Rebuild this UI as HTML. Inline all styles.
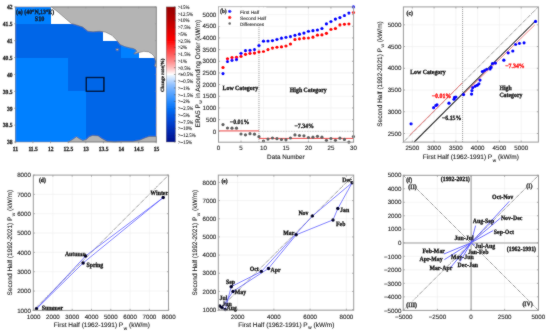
<!DOCTYPE html><html><head><meta charset="utf-8"><style>html,body{margin:0;padding:0;background:#fff;width:550px;height:335px;overflow:hidden}svg{display:block;will-change:transform;text-rendering:geometricPrecision}</style></head><body>
<svg xmlns="http://www.w3.org/2000/svg" width="550" height="335" viewBox="0 0 550 335">
<rect width="550" height="335" fill="#fff"/>
<defs><filter id="cv" x="0" y="0" width="550" height="335" filterUnits="userSpaceOnUse" primitiveUnits="userSpaceOnUse"><feConvolveMatrix order="3" kernelMatrix="1 2 1 2 24 2 1 2 1" divisor="36" edgeMode="duplicate"/></filter></defs><g filter="url(#cv)">
<rect x="15.3" y="6.9" width="35.25" height="16.89" fill="#0080ff" stroke="none" stroke-width="1" shape-rendering="crispEdges"/>
<rect x="15.3" y="23.79" width="88.12" height="16.89" fill="#0066e8" stroke="none" stroke-width="1" shape-rendering="crispEdges"/>
<rect x="15.3" y="40.67" width="105.75" height="16.89" fill="#0066e8" stroke="none" stroke-width="1" shape-rendering="crispEdges"/>
<rect x="121.05" y="40.67" width="17.63" height="16.89" fill="#0080ff" stroke="none" stroke-width="1" shape-rendering="crispEdges"/>
<rect x="15.3" y="57.56" width="52.88" height="33.78" fill="#0080ff" stroke="none" stroke-width="1" shape-rendering="crispEdges"/>
<rect x="68.17" y="57.56" width="88.13" height="33.78" fill="#0066e8" stroke="none" stroke-width="1" shape-rendering="crispEdges"/>
<rect x="15.3" y="91.34" width="70.5" height="50.66" fill="#0080ff" stroke="none" stroke-width="1" shape-rendering="crispEdges"/>
<rect x="85.8" y="91.34" width="70.5" height="50.66" fill="#0066e8" stroke="none" stroke-width="1" shape-rendering="crispEdges"/>
<polygon points="51.3,6.9 58,12 64.9,18 71.2,23.4 76.4,24.9 82.7,27 87.9,31.2 93.1,31.8 99.4,31.2 105.7,32.2 112,35.3 116.1,39.5 120.3,44.7 122.4,45.4 124.8,46.6 129.6,47.8 133.1,48.4 135.5,49.6 136.7,51.3 134.9,52.5 133.7,53.7 135.5,53.7 139.1,52.5 143.9,51.3 148.7,51.9 151.7,53.7 154,56.1 154.6,58.5 155.8,61.5 155.2,63.9 154.6,65.7 156.3,67.5 156.3,6.9" fill="#b4b4b4" stroke="#5a5a5a" stroke-width="0.5"/>
<polygon points="68.2,142 70,141 72.7,139.5 76.4,136.8 79.1,138.6 82.7,140.5 86.4,139.5 89.1,136.8 92.7,135.5 98.2,135.9 101.8,138.6 107.3,141.4 114.5,142 123.6,141.4 132.7,141.4 140,140.1 145.5,137.7 149.1,136.5 155.5,136.5 156.3,136.5 156.3,142" fill="#b4b4b4" stroke="#5a5a5a" stroke-width="0.5"/>
<ellipse cx="117.3" cy="49.6" rx="1.3" ry="0.9" fill="#b4b4b4" stroke="#5a5a5a" stroke-width="0.4"/>
<rect x="86.3" y="77.5" width="17.6" height="13.8" fill="none" stroke="#000" stroke-width="1.3" />
<rect x="15.3" y="6.9" width="141" height="135.1" fill="none" stroke="#8c8c8c" stroke-width="0.6"/>
<line x1="15.3" y1="142" x2="15.3" y2="140.6" stroke="#8c8c8c" stroke-width="0.48" />
<line x1="15.3" y1="6.9" x2="15.3" y2="8.3" stroke="#8c8c8c" stroke-width="0.48" />
<line x1="32.92" y1="142" x2="32.92" y2="140.6" stroke="#8c8c8c" stroke-width="0.48" />
<line x1="32.92" y1="6.9" x2="32.92" y2="8.3" stroke="#8c8c8c" stroke-width="0.48" />
<line x1="50.55" y1="142" x2="50.55" y2="140.6" stroke="#8c8c8c" stroke-width="0.48" />
<line x1="50.55" y1="6.9" x2="50.55" y2="8.3" stroke="#8c8c8c" stroke-width="0.48" />
<line x1="68.17" y1="142" x2="68.17" y2="140.6" stroke="#8c8c8c" stroke-width="0.48" />
<line x1="68.17" y1="6.9" x2="68.17" y2="8.3" stroke="#8c8c8c" stroke-width="0.48" />
<line x1="85.8" y1="142" x2="85.8" y2="140.6" stroke="#8c8c8c" stroke-width="0.48" />
<line x1="85.8" y1="6.9" x2="85.8" y2="8.3" stroke="#8c8c8c" stroke-width="0.48" />
<line x1="103.42" y1="142" x2="103.42" y2="140.6" stroke="#8c8c8c" stroke-width="0.48" />
<line x1="103.42" y1="6.9" x2="103.42" y2="8.3" stroke="#8c8c8c" stroke-width="0.48" />
<line x1="121.05" y1="142" x2="121.05" y2="140.6" stroke="#8c8c8c" stroke-width="0.48" />
<line x1="121.05" y1="6.9" x2="121.05" y2="8.3" stroke="#8c8c8c" stroke-width="0.48" />
<line x1="138.68" y1="142" x2="138.68" y2="140.6" stroke="#8c8c8c" stroke-width="0.48" />
<line x1="138.68" y1="6.9" x2="138.68" y2="8.3" stroke="#8c8c8c" stroke-width="0.48" />
<line x1="156.3" y1="142" x2="156.3" y2="140.6" stroke="#8c8c8c" stroke-width="0.48" />
<line x1="156.3" y1="6.9" x2="156.3" y2="8.3" stroke="#8c8c8c" stroke-width="0.48" />
<line x1="15.3" y1="142" x2="16.7" y2="142" stroke="#8c8c8c" stroke-width="0.48" />
<line x1="156.3" y1="142" x2="154.9" y2="142" stroke="#8c8c8c" stroke-width="0.48" />
<line x1="15.3" y1="125.11" x2="16.7" y2="125.11" stroke="#8c8c8c" stroke-width="0.48" />
<line x1="156.3" y1="125.11" x2="154.9" y2="125.11" stroke="#8c8c8c" stroke-width="0.48" />
<line x1="15.3" y1="108.22" x2="16.7" y2="108.22" stroke="#8c8c8c" stroke-width="0.48" />
<line x1="156.3" y1="108.22" x2="154.9" y2="108.22" stroke="#8c8c8c" stroke-width="0.48" />
<line x1="15.3" y1="91.34" x2="16.7" y2="91.34" stroke="#8c8c8c" stroke-width="0.48" />
<line x1="156.3" y1="91.34" x2="154.9" y2="91.34" stroke="#8c8c8c" stroke-width="0.48" />
<line x1="15.3" y1="74.45" x2="16.7" y2="74.45" stroke="#8c8c8c" stroke-width="0.48" />
<line x1="156.3" y1="74.45" x2="154.9" y2="74.45" stroke="#8c8c8c" stroke-width="0.48" />
<line x1="15.3" y1="57.56" x2="16.7" y2="57.56" stroke="#8c8c8c" stroke-width="0.48" />
<line x1="156.3" y1="57.56" x2="154.9" y2="57.56" stroke="#8c8c8c" stroke-width="0.48" />
<line x1="15.3" y1="40.67" x2="16.7" y2="40.67" stroke="#8c8c8c" stroke-width="0.48" />
<line x1="156.3" y1="40.67" x2="154.9" y2="40.67" stroke="#8c8c8c" stroke-width="0.48" />
<line x1="15.3" y1="23.79" x2="16.7" y2="23.79" stroke="#8c8c8c" stroke-width="0.48" />
<line x1="156.3" y1="23.79" x2="154.9" y2="23.79" stroke="#8c8c8c" stroke-width="0.48" />
<line x1="15.3" y1="6.9" x2="16.7" y2="6.9" stroke="#8c8c8c" stroke-width="0.48" />
<line x1="156.3" y1="6.9" x2="154.9" y2="6.9" stroke="#8c8c8c" stroke-width="0.48" />
<line x1="15.3" y1="142" x2="15.3" y2="143.3" stroke="#666" stroke-width="0.5" />
<line x1="32.92" y1="142" x2="32.92" y2="143.3" stroke="#666" stroke-width="0.5" />
<line x1="50.55" y1="142" x2="50.55" y2="143.3" stroke="#666" stroke-width="0.5" />
<line x1="68.17" y1="142" x2="68.17" y2="143.3" stroke="#666" stroke-width="0.5" />
<line x1="85.8" y1="142" x2="85.8" y2="143.3" stroke="#666" stroke-width="0.5" />
<line x1="103.42" y1="142" x2="103.42" y2="143.3" stroke="#666" stroke-width="0.5" />
<line x1="121.05" y1="142" x2="121.05" y2="143.3" stroke="#666" stroke-width="0.5" />
<line x1="138.68" y1="142" x2="138.68" y2="143.3" stroke="#666" stroke-width="0.5" />
<line x1="156.3" y1="142" x2="156.3" y2="143.3" stroke="#666" stroke-width="0.5" />
<line x1="14" y1="142" x2="15.3" y2="142" stroke="#666" stroke-width="0.5" />
<line x1="14" y1="125.11" x2="15.3" y2="125.11" stroke="#666" stroke-width="0.5" />
<line x1="14" y1="108.22" x2="15.3" y2="108.22" stroke="#666" stroke-width="0.5" />
<line x1="14" y1="91.34" x2="15.3" y2="91.34" stroke="#666" stroke-width="0.5" />
<line x1="14" y1="74.45" x2="15.3" y2="74.45" stroke="#666" stroke-width="0.5" />
<line x1="14" y1="57.56" x2="15.3" y2="57.56" stroke="#666" stroke-width="0.5" />
<line x1="14" y1="40.67" x2="15.3" y2="40.67" stroke="#666" stroke-width="0.5" />
<line x1="14" y1="23.79" x2="15.3" y2="23.79" stroke="#666" stroke-width="0.5" />
<line x1="14" y1="6.9" x2="15.3" y2="6.9" stroke="#666" stroke-width="0.5" />
<text transform="translate(15.5,150.73) scale(0.8928571428571428,1)" font-size="6.272" text-anchor="middle" font-family='"Liberation Serif", serif' font-weight="bold" fill="#222" stroke="#222" stroke-width="0.3" >11</text>
<text transform="translate(33.12,150.73) scale(0.8928571428571428,1)" font-size="6.272" text-anchor="middle" font-family='"Liberation Serif", serif' font-weight="bold" fill="#222" stroke="#222" stroke-width="0.3" >11.5</text>
<text transform="translate(50.75,150.73) scale(0.8928571428571428,1)" font-size="6.272" text-anchor="middle" font-family='"Liberation Serif", serif' font-weight="bold" fill="#222" stroke="#222" stroke-width="0.3" >12</text>
<text transform="translate(68.38,150.73) scale(0.8928571428571428,1)" font-size="6.272" text-anchor="middle" font-family='"Liberation Serif", serif' font-weight="bold" fill="#222" stroke="#222" stroke-width="0.3" >12.5</text>
<text transform="translate(86,150.73) scale(0.8928571428571428,1)" font-size="6.272" text-anchor="middle" font-family='"Liberation Serif", serif' font-weight="bold" fill="#222" stroke="#222" stroke-width="0.3" >13</text>
<text transform="translate(103.62,150.73) scale(0.8928571428571428,1)" font-size="6.272" text-anchor="middle" font-family='"Liberation Serif", serif' font-weight="bold" fill="#222" stroke="#222" stroke-width="0.3" >13.5</text>
<text transform="translate(121.25,150.73) scale(0.8928571428571428,1)" font-size="6.272" text-anchor="middle" font-family='"Liberation Serif", serif' font-weight="bold" fill="#222" stroke="#222" stroke-width="0.3" >14</text>
<text transform="translate(138.88,150.73) scale(0.8928571428571428,1)" font-size="6.272" text-anchor="middle" font-family='"Liberation Serif", serif' font-weight="bold" fill="#222" stroke="#222" stroke-width="0.3" >14.5</text>
<text transform="translate(156.5,150.73) scale(0.8928571428571428,1)" font-size="6.272" text-anchor="middle" font-family='"Liberation Serif", serif' font-weight="bold" fill="#222" stroke="#222" stroke-width="0.3" >15</text>
<text transform="translate(12.6,144.33) scale(0.8928571428571428,1)" font-size="6.272" text-anchor="end" font-family='"Liberation Serif", serif' font-weight="bold" fill="#222" stroke="#222" stroke-width="0.3" >38</text>
<text transform="translate(12.6,127.44) scale(0.8928571428571428,1)" font-size="6.272" text-anchor="end" font-family='"Liberation Serif", serif' font-weight="bold" fill="#222" stroke="#222" stroke-width="0.3" >38.5</text>
<text transform="translate(12.6,110.55) scale(0.8928571428571428,1)" font-size="6.272" text-anchor="end" font-family='"Liberation Serif", serif' font-weight="bold" fill="#222" stroke="#222" stroke-width="0.3" >39</text>
<text transform="translate(12.6,93.66) scale(0.8928571428571428,1)" font-size="6.272" text-anchor="end" font-family='"Liberation Serif", serif' font-weight="bold" fill="#222" stroke="#222" stroke-width="0.3" >39.5</text>
<text transform="translate(12.6,76.78) scale(0.8928571428571428,1)" font-size="6.272" text-anchor="end" font-family='"Liberation Serif", serif' font-weight="bold" fill="#222" stroke="#222" stroke-width="0.3" >40</text>
<text transform="translate(12.6,59.89) scale(0.8928571428571428,1)" font-size="6.272" text-anchor="end" font-family='"Liberation Serif", serif' font-weight="bold" fill="#222" stroke="#222" stroke-width="0.3" >40.5</text>
<text transform="translate(12.6,43) scale(0.8928571428571428,1)" font-size="6.272" text-anchor="end" font-family='"Liberation Serif", serif' font-weight="bold" fill="#222" stroke="#222" stroke-width="0.3" >41</text>
<text transform="translate(12.6,26.11) scale(0.8928571428571428,1)" font-size="6.272" text-anchor="end" font-family='"Liberation Serif", serif' font-weight="bold" fill="#222" stroke="#222" stroke-width="0.3" >41.5</text>
<text transform="translate(12.6,9.23) scale(0.8928571428571428,1)" font-size="6.272" text-anchor="end" font-family='"Liberation Serif", serif' font-weight="bold" fill="#222" stroke="#222" stroke-width="0.3" >42</text>
<text transform="translate(16,13.63) scale(0.8928571428571428,1)" font-size="6.5520000000000005" text-anchor="start" font-family='"Liberation Serif", serif' font-weight="bold" fill="#111" stroke="#111" stroke-width="0.3" >(a) (40°N,13°E)</text>
<text transform="translate(39.5,20.63) scale(0.8928571428571428,1)" font-size="6.832" text-anchor="middle" font-family='"Liberation Serif", serif' font-weight="bold" fill="#111" stroke="#111" stroke-width="0.3" >S10</text>
<defs><linearGradient id="cbg" x1="0" y1="0" x2="0" y2="1"><stop offset="0" stop-color="#960000"/><stop offset="0.097" stop-color="#b80000"/><stop offset="0.171" stop-color="#dc0000"/><stop offset="0.245" stop-color="#ff0000"/><stop offset="0.297" stop-color="#ff3030"/><stop offset="0.356" stop-color="#ff6060"/><stop offset="0.408" stop-color="#ff9090"/><stop offset="0.452" stop-color="#ffc0c0"/><stop offset="0.489" stop-color="#fff0f0"/><stop offset="0.5" stop-color="#ffffff"/><stop offset="0.504" stop-color="#f0f8ff"/><stop offset="0.541" stop-color="#c0dcff"/><stop offset="0.578" stop-color="#90c0ff"/><stop offset="0.63" stop-color="#60a8ff"/><stop offset="0.689" stop-color="#3090ff"/><stop offset="0.748" stop-color="#0674f8"/><stop offset="0.8" stop-color="#0058e4"/><stop offset="0.852" stop-color="#0044d2"/><stop offset="0.896" stop-color="#0032bc"/><stop offset="0.948" stop-color="#0020a4"/><stop offset="1" stop-color="#00108c"/></linearGradient></defs>
<rect x="166.2" y="6.9" width="9.3" height="135.1" fill="url(#cbg)" stroke="#777" stroke-width="0.4" />
<text transform="translate(177.9,8.81) scale(0.8928571428571428,1)" font-size="5.376" text-anchor="start" font-family='"Liberation Serif", serif' font-weight="normal" fill="#1a1a1a" stroke="#1a1a1a" stroke-width="0.12" >&gt;15%</text>
<line x1="175.5" y1="6.9" x2="173.9" y2="6.9" stroke="#444" stroke-width="0.5" />
<text transform="translate(177.9,15.56) scale(0.8928571428571428,1)" font-size="5.376" text-anchor="start" font-family='"Liberation Serif", serif' font-weight="normal" fill="#1a1a1a" stroke="#1a1a1a" stroke-width="0.12" >&gt;12.5%</text>
<line x1="175.5" y1="13.66" x2="173.9" y2="13.66" stroke="#444" stroke-width="0.5" />
<text transform="translate(177.9,22.32) scale(0.8928571428571428,1)" font-size="5.376" text-anchor="start" font-family='"Liberation Serif", serif' font-weight="normal" fill="#1a1a1a" stroke="#1a1a1a" stroke-width="0.12" >&gt;10%</text>
<line x1="175.5" y1="20.41" x2="173.9" y2="20.41" stroke="#444" stroke-width="0.5" />
<text transform="translate(177.9,29.07) scale(0.8928571428571428,1)" font-size="5.376" text-anchor="start" font-family='"Liberation Serif", serif' font-weight="normal" fill="#1a1a1a" stroke="#1a1a1a" stroke-width="0.12" >&gt;7.5%</text>
<line x1="175.5" y1="27.16" x2="173.9" y2="27.16" stroke="#444" stroke-width="0.5" />
<text transform="translate(177.9,35.83) scale(0.8928571428571428,1)" font-size="5.376" text-anchor="start" font-family='"Liberation Serif", serif' font-weight="normal" fill="#1a1a1a" stroke="#1a1a1a" stroke-width="0.12" >&gt;5%</text>
<line x1="175.5" y1="33.92" x2="173.9" y2="33.92" stroke="#444" stroke-width="0.5" />
<text transform="translate(177.9,42.58) scale(0.8928571428571428,1)" font-size="5.376" text-anchor="start" font-family='"Liberation Serif", serif' font-weight="normal" fill="#1a1a1a" stroke="#1a1a1a" stroke-width="0.12" >&gt;2.5%</text>
<line x1="175.5" y1="40.67" x2="173.9" y2="40.67" stroke="#444" stroke-width="0.5" />
<text transform="translate(177.9,49.34) scale(0.8928571428571428,1)" font-size="5.376" text-anchor="start" font-family='"Liberation Serif", serif' font-weight="normal" fill="#1a1a1a" stroke="#1a1a1a" stroke-width="0.12" >&gt;2%</text>
<line x1="175.5" y1="47.43" x2="173.9" y2="47.43" stroke="#444" stroke-width="0.5" />
<text transform="translate(177.9,56.09) scale(0.8928571428571428,1)" font-size="5.376" text-anchor="start" font-family='"Liberation Serif", serif' font-weight="normal" fill="#1a1a1a" stroke="#1a1a1a" stroke-width="0.12" >&gt;1.5%</text>
<line x1="175.5" y1="54.18" x2="173.9" y2="54.18" stroke="#444" stroke-width="0.5" />
<text transform="translate(177.9,62.85) scale(0.8928571428571428,1)" font-size="5.376" text-anchor="start" font-family='"Liberation Serif", serif' font-weight="normal" fill="#1a1a1a" stroke="#1a1a1a" stroke-width="0.12" >&gt;1%</text>
<line x1="175.5" y1="60.94" x2="173.9" y2="60.94" stroke="#444" stroke-width="0.5" />
<text transform="translate(177.9,69.6) scale(0.8928571428571428,1)" font-size="5.376" text-anchor="start" font-family='"Liberation Serif", serif' font-weight="normal" fill="#1a1a1a" stroke="#1a1a1a" stroke-width="0.12" >&gt;0.5%</text>
<line x1="175.5" y1="67.69" x2="173.9" y2="67.69" stroke="#444" stroke-width="0.5" />
<text transform="translate(177.9,76.36) scale(0.8928571428571428,1)" font-size="5.376" text-anchor="start" font-family='"Liberation Serif", serif' font-weight="normal" fill="#1a1a1a" stroke="#1a1a1a" stroke-width="0.12" >&lt;±0.5%</text>
<line x1="175.5" y1="74.45" x2="173.9" y2="74.45" stroke="#444" stroke-width="0.5" />
<text transform="translate(177.9,83.11) scale(0.8928571428571428,1)" font-size="5.376" text-anchor="start" font-family='"Liberation Serif", serif' font-weight="normal" fill="#1a1a1a" stroke="#1a1a1a" stroke-width="0.12" >&gt;−0.5%</text>
<line x1="175.5" y1="81.2" x2="173.9" y2="81.2" stroke="#444" stroke-width="0.5" />
<text transform="translate(177.9,89.87) scale(0.8928571428571428,1)" font-size="5.376" text-anchor="start" font-family='"Liberation Serif", serif' font-weight="normal" fill="#1a1a1a" stroke="#1a1a1a" stroke-width="0.12" >&gt;−1%</text>
<line x1="175.5" y1="87.96" x2="173.9" y2="87.96" stroke="#444" stroke-width="0.5" />
<text transform="translate(177.9,96.62) scale(0.8928571428571428,1)" font-size="5.376" text-anchor="start" font-family='"Liberation Serif", serif' font-weight="normal" fill="#1a1a1a" stroke="#1a1a1a" stroke-width="0.12" >&gt;−1.5%</text>
<line x1="175.5" y1="94.72" x2="173.9" y2="94.72" stroke="#444" stroke-width="0.5" />
<text transform="translate(177.9,103.38) scale(0.8928571428571428,1)" font-size="5.376" text-anchor="start" font-family='"Liberation Serif", serif' font-weight="normal" fill="#1a1a1a" stroke="#1a1a1a" stroke-width="0.12" >&gt;−2%</text>
<line x1="175.5" y1="101.47" x2="173.9" y2="101.47" stroke="#444" stroke-width="0.5" />
<text transform="translate(177.9,110.13) scale(0.8928571428571428,1)" font-size="5.376" text-anchor="start" font-family='"Liberation Serif", serif' font-weight="normal" fill="#1a1a1a" stroke="#1a1a1a" stroke-width="0.12" >&gt;−2.5%</text>
<line x1="175.5" y1="108.23" x2="173.9" y2="108.23" stroke="#444" stroke-width="0.5" />
<text transform="translate(177.9,116.89) scale(0.8928571428571428,1)" font-size="5.376" text-anchor="start" font-family='"Liberation Serif", serif' font-weight="normal" fill="#1a1a1a" stroke="#1a1a1a" stroke-width="0.12" >&gt;−5%</text>
<line x1="175.5" y1="114.98" x2="173.9" y2="114.98" stroke="#444" stroke-width="0.5" />
<text transform="translate(177.9,123.64) scale(0.8928571428571428,1)" font-size="5.376" text-anchor="start" font-family='"Liberation Serif", serif' font-weight="normal" fill="#1a1a1a" stroke="#1a1a1a" stroke-width="0.12" >&gt;−7.5%</text>
<line x1="175.5" y1="121.73" x2="173.9" y2="121.73" stroke="#444" stroke-width="0.5" />
<text transform="translate(177.9,130.4) scale(0.8928571428571428,1)" font-size="5.376" text-anchor="start" font-family='"Liberation Serif", serif' font-weight="normal" fill="#1a1a1a" stroke="#1a1a1a" stroke-width="0.12" >&gt;−10%</text>
<line x1="175.5" y1="128.49" x2="173.9" y2="128.49" stroke="#444" stroke-width="0.5" />
<text transform="translate(177.9,137.15) scale(0.8928571428571428,1)" font-size="5.376" text-anchor="start" font-family='"Liberation Serif", serif' font-weight="normal" fill="#1a1a1a" stroke="#1a1a1a" stroke-width="0.12" >&gt;−12.5%</text>
<line x1="175.5" y1="135.25" x2="173.9" y2="135.25" stroke="#444" stroke-width="0.5" />
<text transform="translate(177.9,143.91) scale(0.8928571428571428,1)" font-size="5.376" text-anchor="start" font-family='"Liberation Serif", serif' font-weight="normal" fill="#1a1a1a" stroke="#1a1a1a" stroke-width="0.12" >&gt;−15%</text>
<line x1="175.5" y1="142" x2="173.9" y2="142" stroke="#444" stroke-width="0.5" />
<text transform="translate(161.8,75.3) rotate(-90) scale(1.0,1) translate(0,1.704)" font-size="4.8" text-anchor="middle" font-family='"Liberation Serif", serif' font-weight="bold" fill="#222" stroke="#222" stroke-width="0.3" >Change rate(%)</text>
<line x1="240.99" y1="6.9" x2="240.99" y2="142.2" stroke="#eeeeee" stroke-width="0.6" />
<line x1="263.47" y1="6.9" x2="263.47" y2="142.2" stroke="#eeeeee" stroke-width="0.6" />
<line x1="285.95" y1="6.9" x2="285.95" y2="142.2" stroke="#eeeeee" stroke-width="0.6" />
<line x1="308.44" y1="6.9" x2="308.44" y2="142.2" stroke="#eeeeee" stroke-width="0.6" />
<line x1="330.93" y1="6.9" x2="330.93" y2="142.2" stroke="#eeeeee" stroke-width="0.6" />
<line x1="218.5" y1="131.3" x2="353.6" y2="131.3" stroke="#eeeeee" stroke-width="0.6" />
<line x1="218.5" y1="119.63" x2="353.6" y2="119.63" stroke="#eeeeee" stroke-width="0.6" />
<line x1="218.5" y1="107.96" x2="353.6" y2="107.96" stroke="#eeeeee" stroke-width="0.6" />
<line x1="218.5" y1="96.29" x2="353.6" y2="96.29" stroke="#eeeeee" stroke-width="0.6" />
<line x1="218.5" y1="84.62" x2="353.6" y2="84.62" stroke="#eeeeee" stroke-width="0.6" />
<line x1="218.5" y1="72.95" x2="353.6" y2="72.95" stroke="#eeeeee" stroke-width="0.6" />
<line x1="218.5" y1="61.28" x2="353.6" y2="61.28" stroke="#eeeeee" stroke-width="0.6" />
<line x1="218.5" y1="49.61" x2="353.6" y2="49.61" stroke="#eeeeee" stroke-width="0.6" />
<line x1="218.5" y1="37.94" x2="353.6" y2="37.94" stroke="#eeeeee" stroke-width="0.6" />
<line x1="218.5" y1="26.27" x2="353.6" y2="26.27" stroke="#eeeeee" stroke-width="0.6" />
<line x1="218.5" y1="14.6" x2="353.6" y2="14.6" stroke="#eeeeee" stroke-width="0.6" />
<line x1="258.97" y1="6.9" x2="258.97" y2="142.2" stroke="#555" stroke-width="0.8" stroke-dasharray="0.8,1.2"/>
<line x1="258.97" y1="131.3" x2="353.6" y2="131.3" stroke="#999" stroke-width="0.6" stroke-dasharray="0.8,0.8"/>
<line x1="218.5" y1="130.9" x2="258.97" y2="130.9" stroke="#f04a4a" stroke-width="1.0" />
<line x1="258.97" y1="138.4" x2="353.6" y2="138.4" stroke="#f04a4a" stroke-width="1.0" />
<circle cx="223" cy="124.6" r="1.6" fill="#606060"/>
<circle cx="227.49" cy="128" r="1.6" fill="#606060"/>
<circle cx="231.99" cy="128.2" r="1.6" fill="#606060"/>
<circle cx="236.49" cy="128.2" r="1.6" fill="#606060"/>
<circle cx="240.99" cy="134" r="1.6" fill="#606060"/>
<circle cx="245.48" cy="134.8" r="1.6" fill="#606060"/>
<circle cx="249.98" cy="133.7" r="1.6" fill="#606060"/>
<circle cx="254.48" cy="134.2" r="1.6" fill="#606060"/>
<circle cx="258.97" cy="136.7" r="1.6" fill="#606060"/>
<circle cx="263.47" cy="141" r="1.6" fill="#606060"/>
<circle cx="267.97" cy="139.1" r="1.6" fill="#606060"/>
<circle cx="272.46" cy="138" r="1.6" fill="#606060"/>
<circle cx="276.96" cy="138.7" r="1.6" fill="#606060"/>
<circle cx="281.46" cy="139.5" r="1.6" fill="#606060"/>
<circle cx="285.95" cy="139.7" r="1.6" fill="#606060"/>
<circle cx="290.45" cy="138" r="1.6" fill="#606060"/>
<circle cx="294.95" cy="134.9" r="1.6" fill="#606060"/>
<circle cx="299.45" cy="135.5" r="1.6" fill="#606060"/>
<circle cx="303.94" cy="135.8" r="1.6" fill="#606060"/>
<circle cx="308.44" cy="137.6" r="1.6" fill="#606060"/>
<circle cx="312.94" cy="137.2" r="1.6" fill="#606060"/>
<circle cx="317.43" cy="136.3" r="1.6" fill="#606060"/>
<circle cx="321.93" cy="137.2" r="1.6" fill="#606060"/>
<circle cx="326.43" cy="140.3" r="1.6" fill="#606060"/>
<circle cx="330.93" cy="138.5" r="1.6" fill="#606060"/>
<circle cx="335.42" cy="140.3" r="1.6" fill="#606060"/>
<circle cx="339.92" cy="138.2" r="1.6" fill="#606060"/>
<circle cx="344.42" cy="139.4" r="1.6" fill="#606060"/>
<circle cx="348.91" cy="142.1" r="1.6" fill="#606060"/>
<circle cx="353.41" cy="136.6" r="1.6" fill="#606060"/>
<circle cx="223" cy="67.5" r="1.6" fill="#ff0000"/>
<circle cx="227.49" cy="58.8" r="1.6" fill="#ff0000"/>
<circle cx="231.99" cy="57.6" r="1.6" fill="#ff0000"/>
<circle cx="236.49" cy="57.3" r="1.6" fill="#ff0000"/>
<circle cx="240.99" cy="56.4" r="1.6" fill="#ff0000"/>
<circle cx="245.48" cy="54.3" r="1.6" fill="#ff0000"/>
<circle cx="249.98" cy="53.3" r="1.6" fill="#ff0000"/>
<circle cx="254.48" cy="53.1" r="1.6" fill="#ff0000"/>
<circle cx="258.97" cy="51.8" r="1.6" fill="#ff0000"/>
<circle cx="263.47" cy="51.5" r="1.6" fill="#ff0000"/>
<circle cx="267.97" cy="49.6" r="1.6" fill="#ff0000"/>
<circle cx="272.46" cy="48.1" r="1.6" fill="#ff0000"/>
<circle cx="276.96" cy="47.3" r="1.6" fill="#ff0000"/>
<circle cx="281.46" cy="46.9" r="1.6" fill="#ff0000"/>
<circle cx="285.95" cy="46" r="1.6" fill="#ff0000"/>
<circle cx="290.45" cy="44" r="1.6" fill="#ff0000"/>
<circle cx="294.95" cy="39.4" r="1.6" fill="#ff0000"/>
<circle cx="299.45" cy="38.8" r="1.6" fill="#ff0000"/>
<circle cx="303.94" cy="38.2" r="1.6" fill="#ff0000"/>
<circle cx="308.44" cy="38" r="1.6" fill="#ff0000"/>
<circle cx="312.94" cy="37.2" r="1.6" fill="#ff0000"/>
<circle cx="317.43" cy="35.2" r="1.6" fill="#ff0000"/>
<circle cx="321.93" cy="34.9" r="1.6" fill="#ff0000"/>
<circle cx="326.43" cy="33.3" r="1.6" fill="#ff0000"/>
<circle cx="330.93" cy="29.4" r="1.6" fill="#ff0000"/>
<circle cx="335.42" cy="28.4" r="1.6" fill="#ff0000"/>
<circle cx="339.92" cy="24.9" r="1.6" fill="#ff0000"/>
<circle cx="344.42" cy="24.3" r="1.6" fill="#ff0000"/>
<circle cx="348.91" cy="24" r="1.6" fill="#ff0000"/>
<circle cx="353.41" cy="12.5" r="1.6" fill="#ff0000"/>
<circle cx="223" cy="73.6" r="1.6" fill="#0000ff"/>
<circle cx="227.49" cy="61.5" r="1.6" fill="#0000ff"/>
<circle cx="231.99" cy="60.3" r="1.6" fill="#0000ff"/>
<circle cx="236.49" cy="59.7" r="1.6" fill="#0000ff"/>
<circle cx="240.99" cy="53.3" r="1.6" fill="#0000ff"/>
<circle cx="245.48" cy="50.6" r="1.6" fill="#0000ff"/>
<circle cx="249.98" cy="50.3" r="1.6" fill="#0000ff"/>
<circle cx="254.48" cy="49.6" r="1.6" fill="#0000ff"/>
<circle cx="258.97" cy="45.5" r="1.6" fill="#0000ff"/>
<circle cx="263.47" cy="41.2" r="1.6" fill="#0000ff"/>
<circle cx="267.97" cy="41" r="1.6" fill="#0000ff"/>
<circle cx="272.46" cy="40.6" r="1.6" fill="#0000ff"/>
<circle cx="276.96" cy="39.3" r="1.6" fill="#0000ff"/>
<circle cx="281.46" cy="38.2" r="1.6" fill="#0000ff"/>
<circle cx="285.95" cy="37.3" r="1.6" fill="#0000ff"/>
<circle cx="290.45" cy="36.7" r="1.6" fill="#0000ff"/>
<circle cx="294.95" cy="35.4" r="1.6" fill="#0000ff"/>
<circle cx="299.45" cy="34.2" r="1.6" fill="#0000ff"/>
<circle cx="303.94" cy="33.1" r="1.6" fill="#0000ff"/>
<circle cx="308.44" cy="31.3" r="1.6" fill="#0000ff"/>
<circle cx="312.94" cy="30.7" r="1.6" fill="#0000ff"/>
<circle cx="317.43" cy="30" r="1.6" fill="#0000ff"/>
<circle cx="321.93" cy="28.4" r="1.6" fill="#0000ff"/>
<circle cx="326.43" cy="23.9" r="1.6" fill="#0000ff"/>
<circle cx="330.93" cy="21.6" r="1.6" fill="#0000ff"/>
<circle cx="335.42" cy="19.1" r="1.6" fill="#0000ff"/>
<circle cx="339.92" cy="17.6" r="1.6" fill="#0000ff"/>
<circle cx="344.42" cy="15.5" r="1.6" fill="#0000ff"/>
<circle cx="348.91" cy="13.1" r="1.6" fill="#0000ff"/>
<circle cx="353.41" cy="6.9" r="1.6" fill="#0000ff"/>
<rect x="218.5" y="6.9" width="135.1" height="135.3" fill="none" stroke="#9c9c9c" stroke-width="1.0"/>
<line x1="218.5" y1="142.2" x2="218.5" y2="140.6" stroke="#9c9c9c" stroke-width="0.8" />
<line x1="218.5" y1="6.9" x2="218.5" y2="8.5" stroke="#9c9c9c" stroke-width="0.8" />
<line x1="240.99" y1="142.2" x2="240.99" y2="140.6" stroke="#9c9c9c" stroke-width="0.8" />
<line x1="240.99" y1="6.9" x2="240.99" y2="8.5" stroke="#9c9c9c" stroke-width="0.8" />
<line x1="263.47" y1="142.2" x2="263.47" y2="140.6" stroke="#9c9c9c" stroke-width="0.8" />
<line x1="263.47" y1="6.9" x2="263.47" y2="8.5" stroke="#9c9c9c" stroke-width="0.8" />
<line x1="285.95" y1="142.2" x2="285.95" y2="140.6" stroke="#9c9c9c" stroke-width="0.8" />
<line x1="285.95" y1="6.9" x2="285.95" y2="8.5" stroke="#9c9c9c" stroke-width="0.8" />
<line x1="308.44" y1="142.2" x2="308.44" y2="140.6" stroke="#9c9c9c" stroke-width="0.8" />
<line x1="308.44" y1="6.9" x2="308.44" y2="8.5" stroke="#9c9c9c" stroke-width="0.8" />
<line x1="330.93" y1="142.2" x2="330.93" y2="140.6" stroke="#9c9c9c" stroke-width="0.8" />
<line x1="330.93" y1="6.9" x2="330.93" y2="8.5" stroke="#9c9c9c" stroke-width="0.8" />
<line x1="353.41" y1="142.2" x2="353.41" y2="140.6" stroke="#9c9c9c" stroke-width="0.8" />
<line x1="353.41" y1="6.9" x2="353.41" y2="8.5" stroke="#9c9c9c" stroke-width="0.8" />
<line x1="218.5" y1="131.3" x2="220.1" y2="131.3" stroke="#9c9c9c" stroke-width="0.8" />
<line x1="353.6" y1="131.3" x2="352" y2="131.3" stroke="#9c9c9c" stroke-width="0.8" />
<line x1="218.5" y1="119.63" x2="220.1" y2="119.63" stroke="#9c9c9c" stroke-width="0.8" />
<line x1="353.6" y1="119.63" x2="352" y2="119.63" stroke="#9c9c9c" stroke-width="0.8" />
<line x1="218.5" y1="107.96" x2="220.1" y2="107.96" stroke="#9c9c9c" stroke-width="0.8" />
<line x1="353.6" y1="107.96" x2="352" y2="107.96" stroke="#9c9c9c" stroke-width="0.8" />
<line x1="218.5" y1="96.29" x2="220.1" y2="96.29" stroke="#9c9c9c" stroke-width="0.8" />
<line x1="353.6" y1="96.29" x2="352" y2="96.29" stroke="#9c9c9c" stroke-width="0.8" />
<line x1="218.5" y1="84.62" x2="220.1" y2="84.62" stroke="#9c9c9c" stroke-width="0.8" />
<line x1="353.6" y1="84.62" x2="352" y2="84.62" stroke="#9c9c9c" stroke-width="0.8" />
<line x1="218.5" y1="72.95" x2="220.1" y2="72.95" stroke="#9c9c9c" stroke-width="0.8" />
<line x1="353.6" y1="72.95" x2="352" y2="72.95" stroke="#9c9c9c" stroke-width="0.8" />
<line x1="218.5" y1="61.28" x2="220.1" y2="61.28" stroke="#9c9c9c" stroke-width="0.8" />
<line x1="353.6" y1="61.28" x2="352" y2="61.28" stroke="#9c9c9c" stroke-width="0.8" />
<line x1="218.5" y1="49.61" x2="220.1" y2="49.61" stroke="#9c9c9c" stroke-width="0.8" />
<line x1="353.6" y1="49.61" x2="352" y2="49.61" stroke="#9c9c9c" stroke-width="0.8" />
<line x1="218.5" y1="37.94" x2="220.1" y2="37.94" stroke="#9c9c9c" stroke-width="0.8" />
<line x1="353.6" y1="37.94" x2="352" y2="37.94" stroke="#9c9c9c" stroke-width="0.8" />
<line x1="218.5" y1="26.27" x2="220.1" y2="26.27" stroke="#9c9c9c" stroke-width="0.8" />
<line x1="353.6" y1="26.27" x2="352" y2="26.27" stroke="#9c9c9c" stroke-width="0.8" />
<line x1="218.5" y1="14.6" x2="220.1" y2="14.6" stroke="#9c9c9c" stroke-width="0.8" />
<line x1="353.6" y1="14.6" x2="352" y2="14.6" stroke="#9c9c9c" stroke-width="0.8" />
<text transform="translate(218.5,150.4) scale(1.0,1)" font-size="6.2" text-anchor="middle" font-family='"Liberation Sans", sans-serif' font-weight="normal" fill="#262626" stroke="#262626" stroke-width="0.12" >0</text>
<text transform="translate(240.99,150.4) scale(1.0,1)" font-size="6.2" text-anchor="middle" font-family='"Liberation Sans", sans-serif' font-weight="normal" fill="#262626" stroke="#262626" stroke-width="0.12" >5</text>
<text transform="translate(263.47,150.4) scale(1.0,1)" font-size="6.2" text-anchor="middle" font-family='"Liberation Sans", sans-serif' font-weight="normal" fill="#262626" stroke="#262626" stroke-width="0.12" >10</text>
<text transform="translate(285.95,150.4) scale(1.0,1)" font-size="6.2" text-anchor="middle" font-family='"Liberation Sans", sans-serif' font-weight="normal" fill="#262626" stroke="#262626" stroke-width="0.12" >15</text>
<text transform="translate(308.44,150.4) scale(1.0,1)" font-size="6.2" text-anchor="middle" font-family='"Liberation Sans", sans-serif' font-weight="normal" fill="#262626" stroke="#262626" stroke-width="0.12" >20</text>
<text transform="translate(330.93,150.4) scale(1.0,1)" font-size="6.2" text-anchor="middle" font-family='"Liberation Sans", sans-serif' font-weight="normal" fill="#262626" stroke="#262626" stroke-width="0.12" >25</text>
<text transform="translate(353.41,150.4) scale(1.0,1)" font-size="6.2" text-anchor="middle" font-family='"Liberation Sans", sans-serif' font-weight="normal" fill="#262626" stroke="#262626" stroke-width="0.12" >30</text>
<text transform="translate(216.3,133.5) scale(1.0,1)" font-size="6.2" text-anchor="end" font-family='"Liberation Sans", sans-serif' font-weight="normal" fill="#262626" stroke="#262626" stroke-width="0.12" >0</text>
<text transform="translate(216.3,121.83) scale(1.0,1)" font-size="6.2" text-anchor="end" font-family='"Liberation Sans", sans-serif' font-weight="normal" fill="#262626" stroke="#262626" stroke-width="0.12" >500</text>
<text transform="translate(216.3,110.16) scale(1.0,1)" font-size="6.2" text-anchor="end" font-family='"Liberation Sans", sans-serif' font-weight="normal" fill="#262626" stroke="#262626" stroke-width="0.12" >1000</text>
<text transform="translate(216.3,98.49) scale(1.0,1)" font-size="6.2" text-anchor="end" font-family='"Liberation Sans", sans-serif' font-weight="normal" fill="#262626" stroke="#262626" stroke-width="0.12" >1500</text>
<text transform="translate(216.3,86.82) scale(1.0,1)" font-size="6.2" text-anchor="end" font-family='"Liberation Sans", sans-serif' font-weight="normal" fill="#262626" stroke="#262626" stroke-width="0.12" >2000</text>
<text transform="translate(216.3,75.15) scale(1.0,1)" font-size="6.2" text-anchor="end" font-family='"Liberation Sans", sans-serif' font-weight="normal" fill="#262626" stroke="#262626" stroke-width="0.12" >2500</text>
<text transform="translate(216.3,63.48) scale(1.0,1)" font-size="6.2" text-anchor="end" font-family='"Liberation Sans", sans-serif' font-weight="normal" fill="#262626" stroke="#262626" stroke-width="0.12" >3000</text>
<text transform="translate(216.3,51.81) scale(1.0,1)" font-size="6.2" text-anchor="end" font-family='"Liberation Sans", sans-serif' font-weight="normal" fill="#262626" stroke="#262626" stroke-width="0.12" >3500</text>
<text transform="translate(216.3,40.14) scale(1.0,1)" font-size="6.2" text-anchor="end" font-family='"Liberation Sans", sans-serif' font-weight="normal" fill="#262626" stroke="#262626" stroke-width="0.12" >4000</text>
<text transform="translate(216.3,28.47) scale(1.0,1)" font-size="6.2" text-anchor="end" font-family='"Liberation Sans", sans-serif' font-weight="normal" fill="#262626" stroke="#262626" stroke-width="0.12" >4500</text>
<text transform="translate(216.3,16.8) scale(1.0,1)" font-size="6.2" text-anchor="end" font-family='"Liberation Sans", sans-serif' font-weight="normal" fill="#262626" stroke="#262626" stroke-width="0.12" >5000</text>
<text transform="translate(285.8,159.14) scale(1.0,1)" font-size="6.3" text-anchor="middle" font-family='"Liberation Sans", sans-serif' font-weight="normal" fill="#262626" stroke="#262626" stroke-width="0.12" >Data Number</text>
<text transform="translate(197.4,73.6) rotate(-90) scale(1.0,1) translate(0,2.325)" font-size="6.55" text-anchor="middle" font-family='"Liberation Sans", sans-serif' font-weight="normal" fill="#262626" stroke="#262626" stroke-width="0.12" >ERA5 P<tspan font-size="4.6" dx="0.5" dy="2.6">w</tspan><tspan dx="0.2" dy="-2.6"> in Ascending Order (kW/m)</tspan></text>
<rect x="218.7" y="7.3" width="47.5" height="18.9" fill="#fff" stroke="none" stroke-width="1" />
<text transform="translate(219.9,13.49) scale(0.8928571428571428,1)" font-size="6.16" text-anchor="start" font-family='"Liberation Serif", serif' font-weight="bold" fill="#111" stroke="#111" stroke-width="0.3" >(b)</text>
<circle cx="229.7" cy="11.3" r="1.65" fill="#0000ff"/>
<text transform="translate(240.1,13.59) scale(1.0,1)" font-size="4.75" text-anchor="start" font-family='"Liberation Sans", sans-serif' font-weight="normal" fill="#222" stroke="#222" stroke-width="0.12" >First Half</text>
<circle cx="229.7" cy="17.5" r="1.65" fill="#ff0000"/>
<text transform="translate(240.1,19.59) scale(1.0,1)" font-size="4.75" text-anchor="start" font-family='"Liberation Sans", sans-serif' font-weight="normal" fill="#222" stroke="#222" stroke-width="0.12" >Second Half</text>
<circle cx="229.7" cy="23.5" r="1.3" fill="#606060"/>
<text transform="translate(240.1,26.09) scale(1.0,1)" font-size="4.75" text-anchor="start" font-family='"Liberation Sans", sans-serif' font-weight="normal" fill="#222" stroke="#222" stroke-width="0.12" >Differences</text>
<text transform="translate(222.6,90.03) scale(0.8928571428571428,1)" font-size="6.5520000000000005" text-anchor="start" font-family='"Liberation Serif", serif' font-weight="bold" fill="#111" stroke="#111" stroke-width="0.3" >Low Category</text>
<text transform="translate(289.8,92.13) scale(0.8928571428571428,1)" font-size="6.5520000000000005" text-anchor="start" font-family='"Liberation Serif", serif' font-weight="bold" fill="#111" stroke="#111" stroke-width="0.3" >High Category</text>
<text transform="translate(239.6,123.65) scale(0.8928571428571428,1)" font-size="6.608000000000001" text-anchor="middle" font-family='"Liberation Serif", serif' font-weight="bold" fill="#111" stroke="#111" stroke-width="0.3" >−0.01%</text>
<text transform="translate(304.2,128.15) scale(0.8928571428571428,1)" font-size="6.608000000000001" text-anchor="middle" font-family='"Liberation Serif", serif' font-weight="bold" fill="#111" stroke="#111" stroke-width="0.3" >−7.34%</text>
<line x1="412.3" y1="6.9" x2="412.3" y2="142.1" stroke="#eeeeee" stroke-width="0.6" />
<line x1="434.08" y1="6.9" x2="434.08" y2="142.1" stroke="#eeeeee" stroke-width="0.6" />
<line x1="455.86" y1="6.9" x2="455.86" y2="142.1" stroke="#eeeeee" stroke-width="0.6" />
<line x1="477.64" y1="6.9" x2="477.64" y2="142.1" stroke="#eeeeee" stroke-width="0.6" />
<line x1="499.42" y1="6.9" x2="499.42" y2="142.1" stroke="#eeeeee" stroke-width="0.6" />
<line x1="521.2" y1="6.9" x2="521.2" y2="142.1" stroke="#eeeeee" stroke-width="0.6" />
<line x1="403.4" y1="133.5" x2="538.4" y2="133.5" stroke="#eeeeee" stroke-width="0.6" />
<line x1="403.4" y1="111.76" x2="538.4" y2="111.76" stroke="#eeeeee" stroke-width="0.6" />
<line x1="403.4" y1="90.02" x2="538.4" y2="90.02" stroke="#eeeeee" stroke-width="0.6" />
<line x1="403.4" y1="68.28" x2="538.4" y2="68.28" stroke="#eeeeee" stroke-width="0.6" />
<line x1="403.4" y1="46.54" x2="538.4" y2="46.54" stroke="#eeeeee" stroke-width="0.6" />
<line x1="403.4" y1="24.8" x2="538.4" y2="24.8" stroke="#eeeeee" stroke-width="0.6" />
<line x1="462.6" y1="6.9" x2="462.6" y2="142.1" stroke="#555" stroke-width="0.8" stroke-dasharray="0.8,1.2"/>
<line x1="403.4" y1="142.1" x2="538.4" y2="6.9" stroke="#4a4a4a" stroke-width="1.0" stroke-dasharray="0.01,1.8" stroke-linecap="round"/>
<line x1="409.7" y1="135.1" x2="462.2" y2="82.8" stroke="#f07070" stroke-width="0.8" />
<line x1="462.2" y1="95.5" x2="534.8" y2="24.9" stroke="#f07070" stroke-width="0.8" />
<line x1="414.2" y1="142" x2="534.8" y2="21.7" stroke="#383838" stroke-width="1.15" />
<circle cx="411.09" cy="123.85" r="1.6" fill="#0000ff"/>
<circle cx="433.67" cy="107.64" r="1.6" fill="#0000ff"/>
<circle cx="435.91" cy="105.4" r="1.6" fill="#0000ff"/>
<circle cx="437.03" cy="104.85" r="1.6" fill="#0000ff"/>
<circle cx="448.97" cy="103.17" r="1.6" fill="#0000ff"/>
<circle cx="454.01" cy="99.26" r="1.6" fill="#0000ff"/>
<circle cx="454.57" cy="97.39" r="1.6" fill="#0000ff"/>
<circle cx="455.88" cy="97.02" r="1.6" fill="#0000ff"/>
<circle cx="463.53" cy="94.6" r="1.6" fill="#0000ff"/>
<circle cx="471.56" cy="94.04" r="1.6" fill="#0000ff"/>
<circle cx="471.93" cy="90.5" r="1.6" fill="#0000ff"/>
<circle cx="472.68" cy="87.71" r="1.6" fill="#0000ff"/>
<circle cx="475.1" cy="86.22" r="1.6" fill="#0000ff"/>
<circle cx="477.15" cy="85.47" r="1.6" fill="#0000ff"/>
<circle cx="478.83" cy="83.79" r="1.6" fill="#0000ff"/>
<circle cx="479.95" cy="80.07" r="1.6" fill="#0000ff"/>
<circle cx="482.38" cy="71.5" r="1.6" fill="#0000ff"/>
<circle cx="484.62" cy="70.38" r="1.6" fill="#0000ff"/>
<circle cx="486.67" cy="69.26" r="1.6" fill="#0000ff"/>
<circle cx="490.03" cy="68.89" r="1.6" fill="#0000ff"/>
<circle cx="491.15" cy="67.4" r="1.6" fill="#0000ff"/>
<circle cx="492.46" cy="63.68" r="1.6" fill="#0000ff"/>
<circle cx="495.44" cy="63.12" r="1.6" fill="#0000ff"/>
<circle cx="503.84" cy="60.14" r="1.6" fill="#0000ff"/>
<circle cx="508.14" cy="52.87" r="1.6" fill="#0000ff"/>
<circle cx="512.8" cy="51.01" r="1.6" fill="#0000ff"/>
<circle cx="515.6" cy="44.49" r="1.6" fill="#0000ff"/>
<circle cx="519.52" cy="43.37" r="1.6" fill="#0000ff"/>
<circle cx="524" cy="42.81" r="1.6" fill="#0000ff"/>
<circle cx="535.57" cy="21.39" r="1.6" fill="#0000ff"/>
<rect x="403.4" y="6.9" width="135" height="135.2" fill="none" stroke="#9c9c9c" stroke-width="1.0"/>
<line x1="412.3" y1="142.1" x2="412.3" y2="140.5" stroke="#9c9c9c" stroke-width="0.8" />
<line x1="412.3" y1="6.9" x2="412.3" y2="8.5" stroke="#9c9c9c" stroke-width="0.8" />
<line x1="434.08" y1="142.1" x2="434.08" y2="140.5" stroke="#9c9c9c" stroke-width="0.8" />
<line x1="434.08" y1="6.9" x2="434.08" y2="8.5" stroke="#9c9c9c" stroke-width="0.8" />
<line x1="455.86" y1="142.1" x2="455.86" y2="140.5" stroke="#9c9c9c" stroke-width="0.8" />
<line x1="455.86" y1="6.9" x2="455.86" y2="8.5" stroke="#9c9c9c" stroke-width="0.8" />
<line x1="477.64" y1="142.1" x2="477.64" y2="140.5" stroke="#9c9c9c" stroke-width="0.8" />
<line x1="477.64" y1="6.9" x2="477.64" y2="8.5" stroke="#9c9c9c" stroke-width="0.8" />
<line x1="499.42" y1="142.1" x2="499.42" y2="140.5" stroke="#9c9c9c" stroke-width="0.8" />
<line x1="499.42" y1="6.9" x2="499.42" y2="8.5" stroke="#9c9c9c" stroke-width="0.8" />
<line x1="521.2" y1="142.1" x2="521.2" y2="140.5" stroke="#9c9c9c" stroke-width="0.8" />
<line x1="521.2" y1="6.9" x2="521.2" y2="8.5" stroke="#9c9c9c" stroke-width="0.8" />
<line x1="403.4" y1="133.5" x2="405" y2="133.5" stroke="#9c9c9c" stroke-width="0.8" />
<line x1="538.4" y1="133.5" x2="536.8" y2="133.5" stroke="#9c9c9c" stroke-width="0.8" />
<line x1="403.4" y1="111.76" x2="405" y2="111.76" stroke="#9c9c9c" stroke-width="0.8" />
<line x1="538.4" y1="111.76" x2="536.8" y2="111.76" stroke="#9c9c9c" stroke-width="0.8" />
<line x1="403.4" y1="90.02" x2="405" y2="90.02" stroke="#9c9c9c" stroke-width="0.8" />
<line x1="538.4" y1="90.02" x2="536.8" y2="90.02" stroke="#9c9c9c" stroke-width="0.8" />
<line x1="403.4" y1="68.28" x2="405" y2="68.28" stroke="#9c9c9c" stroke-width="0.8" />
<line x1="538.4" y1="68.28" x2="536.8" y2="68.28" stroke="#9c9c9c" stroke-width="0.8" />
<line x1="403.4" y1="46.54" x2="405" y2="46.54" stroke="#9c9c9c" stroke-width="0.8" />
<line x1="538.4" y1="46.54" x2="536.8" y2="46.54" stroke="#9c9c9c" stroke-width="0.8" />
<line x1="403.4" y1="24.8" x2="405" y2="24.8" stroke="#9c9c9c" stroke-width="0.8" />
<line x1="538.4" y1="24.8" x2="536.8" y2="24.8" stroke="#9c9c9c" stroke-width="0.8" />
<text transform="translate(412.3,150.4) scale(1.0,1)" font-size="6.2" text-anchor="middle" font-family='"Liberation Sans", sans-serif' font-weight="normal" fill="#262626" stroke="#262626" stroke-width="0.12" >2500</text>
<text transform="translate(401.4,135.7) scale(1.0,1)" font-size="6.2" text-anchor="end" font-family='"Liberation Sans", sans-serif' font-weight="normal" fill="#262626" stroke="#262626" stroke-width="0.12" >2500</text>
<text transform="translate(434.08,150.4) scale(1.0,1)" font-size="6.2" text-anchor="middle" font-family='"Liberation Sans", sans-serif' font-weight="normal" fill="#262626" stroke="#262626" stroke-width="0.12" >3000</text>
<text transform="translate(401.4,113.96) scale(1.0,1)" font-size="6.2" text-anchor="end" font-family='"Liberation Sans", sans-serif' font-weight="normal" fill="#262626" stroke="#262626" stroke-width="0.12" >3000</text>
<text transform="translate(455.86,150.4) scale(1.0,1)" font-size="6.2" text-anchor="middle" font-family='"Liberation Sans", sans-serif' font-weight="normal" fill="#262626" stroke="#262626" stroke-width="0.12" >3500</text>
<text transform="translate(401.4,92.22) scale(1.0,1)" font-size="6.2" text-anchor="end" font-family='"Liberation Sans", sans-serif' font-weight="normal" fill="#262626" stroke="#262626" stroke-width="0.12" >3500</text>
<text transform="translate(477.64,150.4) scale(1.0,1)" font-size="6.2" text-anchor="middle" font-family='"Liberation Sans", sans-serif' font-weight="normal" fill="#262626" stroke="#262626" stroke-width="0.12" >4000</text>
<text transform="translate(401.4,70.48) scale(1.0,1)" font-size="6.2" text-anchor="end" font-family='"Liberation Sans", sans-serif' font-weight="normal" fill="#262626" stroke="#262626" stroke-width="0.12" >4000</text>
<text transform="translate(499.42,150.4) scale(1.0,1)" font-size="6.2" text-anchor="middle" font-family='"Liberation Sans", sans-serif' font-weight="normal" fill="#262626" stroke="#262626" stroke-width="0.12" >4500</text>
<text transform="translate(401.4,48.74) scale(1.0,1)" font-size="6.2" text-anchor="end" font-family='"Liberation Sans", sans-serif' font-weight="normal" fill="#262626" stroke="#262626" stroke-width="0.12" >4500</text>
<text transform="translate(521.2,150.4) scale(1.0,1)" font-size="6.2" text-anchor="middle" font-family='"Liberation Sans", sans-serif' font-weight="normal" fill="#262626" stroke="#262626" stroke-width="0.12" >5000</text>
<text transform="translate(401.4,27) scale(1.0,1)" font-size="6.2" text-anchor="end" font-family='"Liberation Sans", sans-serif' font-weight="normal" fill="#262626" stroke="#262626" stroke-width="0.12" >5000</text>
<text transform="translate(470.9,159.01) scale(1.0,1)" font-size="6.5" text-anchor="middle" font-family='"Liberation Sans", sans-serif' font-weight="normal" fill="#262626" stroke="#262626" stroke-width="0.12" >First Half (1962-1991) P<tspan font-size="4.6" dx="0.5" dy="2.6">w</tspan><tspan dx="0.2" dy="-2.6"> (kW/m)</tspan></text>
<text transform="translate(379.4,74) rotate(-90) scale(1.0,1) translate(0,2.308)" font-size="6.5" text-anchor="middle" font-family='"Liberation Sans", sans-serif' font-weight="normal" fill="#262626" stroke="#262626" stroke-width="0.12" >Second Half (1992-2021) P<tspan font-size="4.6" dx="0.5" dy="2.6">w</tspan><tspan dx="0.2" dy="-2.6"> (kW/m)</tspan></text>
<text transform="translate(406.6,15.13) scale(0.8928571428571428,1)" font-size="6.272" text-anchor="start" font-family='"Liberation Serif", serif' font-weight="bold" fill="#111" stroke="#111" stroke-width="0.3" >(c)</text>
<text transform="translate(410.2,74.23) scale(0.8928571428571428,1)" font-size="6.5520000000000005" text-anchor="start" font-family='"Liberation Serif", serif' font-weight="bold" fill="#111" stroke="#111" stroke-width="0.3" >Low Category</text>
<text transform="translate(431.7,97.55) scale(0.8928571428571428,1)" font-size="6.608000000000001" text-anchor="start" font-family='"Liberation Serif", serif' font-weight="bold" fill="#ff0000" stroke="#ff0000" stroke-width="0.3" >−0.01%</text>
<text transform="translate(441.9,120.25) scale(0.8928571428571428,1)" font-size="6.608000000000001" text-anchor="start" font-family='"Liberation Serif", serif' font-weight="bold" fill="#111" stroke="#111" stroke-width="0.3" >−6.15%</text>
<text transform="translate(505.2,68.45) scale(0.8928571428571428,1)" font-size="6.608000000000001" text-anchor="start" font-family='"Liberation Serif", serif' font-weight="bold" fill="#ff0000" stroke="#ff0000" stroke-width="0.3" >−7.34%</text>
<text transform="translate(499.4,90.33) scale(0.8928571428571428,1)" font-size="6.5520000000000005" text-anchor="start" font-family='"Liberation Serif", serif' font-weight="bold" fill="#111" stroke="#111" stroke-width="0.3" >High</text>
<text transform="translate(499.4,97.43) scale(0.8928571428571428,1)" font-size="6.5520000000000005" text-anchor="start" font-family='"Liberation Serif", serif' font-weight="bold" fill="#111" stroke="#111" stroke-width="0.3" >Category</text>
<line x1="52.9" y1="175.1" x2="52.9" y2="310.4" stroke="#eeeeee" stroke-width="0.6" />
<line x1="72.2" y1="175.1" x2="72.2" y2="310.4" stroke="#eeeeee" stroke-width="0.6" />
<line x1="91.5" y1="175.1" x2="91.5" y2="310.4" stroke="#eeeeee" stroke-width="0.6" />
<line x1="110.8" y1="175.1" x2="110.8" y2="310.4" stroke="#eeeeee" stroke-width="0.6" />
<line x1="130.1" y1="175.1" x2="130.1" y2="310.4" stroke="#eeeeee" stroke-width="0.6" />
<line x1="149.4" y1="175.1" x2="149.4" y2="310.4" stroke="#eeeeee" stroke-width="0.6" />
<line x1="33.3" y1="291.06" x2="168.5" y2="291.06" stroke="#eeeeee" stroke-width="0.6" />
<line x1="33.3" y1="271.72" x2="168.5" y2="271.72" stroke="#eeeeee" stroke-width="0.6" />
<line x1="33.3" y1="252.38" x2="168.5" y2="252.38" stroke="#eeeeee" stroke-width="0.6" />
<line x1="33.3" y1="233.04" x2="168.5" y2="233.04" stroke="#eeeeee" stroke-width="0.6" />
<line x1="33.3" y1="213.7" x2="168.5" y2="213.7" stroke="#eeeeee" stroke-width="0.6" />
<line x1="33.3" y1="194.36" x2="168.5" y2="194.36" stroke="#eeeeee" stroke-width="0.6" />
<line x1="33.3" y1="310.4" x2="168.5" y2="175.1" stroke="#4a4a4a" stroke-width="1.0" stroke-dasharray="0.01,1.8" stroke-linecap="round"/>
<polyline points="83.1,263 36.5,308.8 85.5,256 163.2,197.6 83.1,263" fill="none" stroke="#5f5fff" stroke-width="0.8"/>
<circle cx="36.5" cy="308.8" r="1.75" fill="#000028"/>
<circle cx="85.5" cy="256" r="1.75" fill="#000028"/>
<circle cx="83.1" cy="263" r="1.75" fill="#000028"/>
<circle cx="163.2" cy="197.6" r="1.75" fill="#000028"/>
<rect x="33.3" y="175.1" width="135.2" height="135.3" fill="none" stroke="#9c9c9c" stroke-width="1.0"/>
<line x1="33.6" y1="310.4" x2="33.6" y2="308.8" stroke="#9c9c9c" stroke-width="0.8" />
<line x1="33.6" y1="175.1" x2="33.6" y2="176.7" stroke="#9c9c9c" stroke-width="0.8" />
<line x1="52.9" y1="310.4" x2="52.9" y2="308.8" stroke="#9c9c9c" stroke-width="0.8" />
<line x1="52.9" y1="175.1" x2="52.9" y2="176.7" stroke="#9c9c9c" stroke-width="0.8" />
<line x1="72.2" y1="310.4" x2="72.2" y2="308.8" stroke="#9c9c9c" stroke-width="0.8" />
<line x1="72.2" y1="175.1" x2="72.2" y2="176.7" stroke="#9c9c9c" stroke-width="0.8" />
<line x1="91.5" y1="310.4" x2="91.5" y2="308.8" stroke="#9c9c9c" stroke-width="0.8" />
<line x1="91.5" y1="175.1" x2="91.5" y2="176.7" stroke="#9c9c9c" stroke-width="0.8" />
<line x1="110.8" y1="310.4" x2="110.8" y2="308.8" stroke="#9c9c9c" stroke-width="0.8" />
<line x1="110.8" y1="175.1" x2="110.8" y2="176.7" stroke="#9c9c9c" stroke-width="0.8" />
<line x1="130.1" y1="310.4" x2="130.1" y2="308.8" stroke="#9c9c9c" stroke-width="0.8" />
<line x1="130.1" y1="175.1" x2="130.1" y2="176.7" stroke="#9c9c9c" stroke-width="0.8" />
<line x1="149.4" y1="310.4" x2="149.4" y2="308.8" stroke="#9c9c9c" stroke-width="0.8" />
<line x1="149.4" y1="175.1" x2="149.4" y2="176.7" stroke="#9c9c9c" stroke-width="0.8" />
<line x1="168.7" y1="310.4" x2="168.7" y2="308.8" stroke="#9c9c9c" stroke-width="0.8" />
<line x1="168.7" y1="175.1" x2="168.7" y2="176.7" stroke="#9c9c9c" stroke-width="0.8" />
<line x1="33.3" y1="310.4" x2="34.9" y2="310.4" stroke="#9c9c9c" stroke-width="0.8" />
<line x1="168.5" y1="310.4" x2="166.9" y2="310.4" stroke="#9c9c9c" stroke-width="0.8" />
<line x1="33.3" y1="291.06" x2="34.9" y2="291.06" stroke="#9c9c9c" stroke-width="0.8" />
<line x1="168.5" y1="291.06" x2="166.9" y2="291.06" stroke="#9c9c9c" stroke-width="0.8" />
<line x1="33.3" y1="271.72" x2="34.9" y2="271.72" stroke="#9c9c9c" stroke-width="0.8" />
<line x1="168.5" y1="271.72" x2="166.9" y2="271.72" stroke="#9c9c9c" stroke-width="0.8" />
<line x1="33.3" y1="252.38" x2="34.9" y2="252.38" stroke="#9c9c9c" stroke-width="0.8" />
<line x1="168.5" y1="252.38" x2="166.9" y2="252.38" stroke="#9c9c9c" stroke-width="0.8" />
<line x1="33.3" y1="233.04" x2="34.9" y2="233.04" stroke="#9c9c9c" stroke-width="0.8" />
<line x1="168.5" y1="233.04" x2="166.9" y2="233.04" stroke="#9c9c9c" stroke-width="0.8" />
<line x1="33.3" y1="213.7" x2="34.9" y2="213.7" stroke="#9c9c9c" stroke-width="0.8" />
<line x1="168.5" y1="213.7" x2="166.9" y2="213.7" stroke="#9c9c9c" stroke-width="0.8" />
<line x1="33.3" y1="194.36" x2="34.9" y2="194.36" stroke="#9c9c9c" stroke-width="0.8" />
<line x1="168.5" y1="194.36" x2="166.9" y2="194.36" stroke="#9c9c9c" stroke-width="0.8" />
<line x1="33.3" y1="175.02" x2="34.9" y2="175.02" stroke="#9c9c9c" stroke-width="0.8" />
<line x1="168.5" y1="175.02" x2="166.9" y2="175.02" stroke="#9c9c9c" stroke-width="0.8" />
<text transform="translate(33.6,318.5) scale(1.0,1)" font-size="6.2" text-anchor="middle" font-family='"Liberation Sans", sans-serif' font-weight="normal" fill="#262626" stroke="#262626" stroke-width="0.12" >1000</text>
<text transform="translate(30.9,312.6) scale(1.0,1)" font-size="6.2" text-anchor="end" font-family='"Liberation Sans", sans-serif' font-weight="normal" fill="#262626" stroke="#262626" stroke-width="0.12" >1000</text>
<text transform="translate(52.9,318.5) scale(1.0,1)" font-size="6.2" text-anchor="middle" font-family='"Liberation Sans", sans-serif' font-weight="normal" fill="#262626" stroke="#262626" stroke-width="0.12" >2000</text>
<text transform="translate(30.9,293.26) scale(1.0,1)" font-size="6.2" text-anchor="end" font-family='"Liberation Sans", sans-serif' font-weight="normal" fill="#262626" stroke="#262626" stroke-width="0.12" >2000</text>
<text transform="translate(72.2,318.5) scale(1.0,1)" font-size="6.2" text-anchor="middle" font-family='"Liberation Sans", sans-serif' font-weight="normal" fill="#262626" stroke="#262626" stroke-width="0.12" >3000</text>
<text transform="translate(30.9,273.92) scale(1.0,1)" font-size="6.2" text-anchor="end" font-family='"Liberation Sans", sans-serif' font-weight="normal" fill="#262626" stroke="#262626" stroke-width="0.12" >3000</text>
<text transform="translate(91.5,318.5) scale(1.0,1)" font-size="6.2" text-anchor="middle" font-family='"Liberation Sans", sans-serif' font-weight="normal" fill="#262626" stroke="#262626" stroke-width="0.12" >4000</text>
<text transform="translate(30.9,254.58) scale(1.0,1)" font-size="6.2" text-anchor="end" font-family='"Liberation Sans", sans-serif' font-weight="normal" fill="#262626" stroke="#262626" stroke-width="0.12" >4000</text>
<text transform="translate(110.8,318.5) scale(1.0,1)" font-size="6.2" text-anchor="middle" font-family='"Liberation Sans", sans-serif' font-weight="normal" fill="#262626" stroke="#262626" stroke-width="0.12" >5000</text>
<text transform="translate(30.9,235.24) scale(1.0,1)" font-size="6.2" text-anchor="end" font-family='"Liberation Sans", sans-serif' font-weight="normal" fill="#262626" stroke="#262626" stroke-width="0.12" >5000</text>
<text transform="translate(130.1,318.5) scale(1.0,1)" font-size="6.2" text-anchor="middle" font-family='"Liberation Sans", sans-serif' font-weight="normal" fill="#262626" stroke="#262626" stroke-width="0.12" >6000</text>
<text transform="translate(30.9,215.9) scale(1.0,1)" font-size="6.2" text-anchor="end" font-family='"Liberation Sans", sans-serif' font-weight="normal" fill="#262626" stroke="#262626" stroke-width="0.12" >6000</text>
<text transform="translate(149.4,318.5) scale(1.0,1)" font-size="6.2" text-anchor="middle" font-family='"Liberation Sans", sans-serif' font-weight="normal" fill="#262626" stroke="#262626" stroke-width="0.12" >7000</text>
<text transform="translate(30.9,196.56) scale(1.0,1)" font-size="6.2" text-anchor="end" font-family='"Liberation Sans", sans-serif' font-weight="normal" fill="#262626" stroke="#262626" stroke-width="0.12" >7000</text>
<text transform="translate(168.7,318.5) scale(1.0,1)" font-size="6.2" text-anchor="middle" font-family='"Liberation Sans", sans-serif' font-weight="normal" fill="#262626" stroke="#262626" stroke-width="0.12" >8000</text>
<text transform="translate(30.9,177.22) scale(1.0,1)" font-size="6.2" text-anchor="end" font-family='"Liberation Sans", sans-serif' font-weight="normal" fill="#262626" stroke="#262626" stroke-width="0.12" >8000</text>
<text transform="translate(101.9,327.01) scale(1.0,1)" font-size="6.5" text-anchor="middle" font-family='"Liberation Sans", sans-serif' font-weight="normal" fill="#262626" stroke="#262626" stroke-width="0.12" >First Half (1962-1991) P<tspan font-size="4.6" dx="0.5" dy="2.6">w</tspan><tspan dx="0.2" dy="-2.6"> (kW/m)</tspan></text>
<text transform="translate(9.9,242.7) rotate(-90) scale(1.0,1) translate(0,2.308)" font-size="6.5" text-anchor="middle" font-family='"Liberation Sans", sans-serif' font-weight="normal" fill="#262626" stroke="#262626" stroke-width="0.12" >Second Half (1992-2021) P<tspan font-size="4.6" dx="0.5" dy="2.6">w</tspan><tspan dx="0.2" dy="-2.6"> (kW/m)</tspan></text>
<text transform="translate(39,182.43) scale(0.8928571428571428,1)" font-size="6.272" text-anchor="start" font-family='"Liberation Serif", serif' font-weight="bold" fill="#111" stroke="#111" stroke-width="0.3" >(d)</text>
<text transform="translate(41.7,309.83) scale(0.8928571428571428,1)" font-size="6.5520000000000005" text-anchor="start" font-family='"Liberation Serif", serif' font-weight="bold" fill="#111" stroke="#111" stroke-width="0.3" >Summer</text>
<text transform="translate(64.9,256.33) scale(0.8928571428571428,1)" font-size="6.5520000000000005" text-anchor="start" font-family='"Liberation Serif", serif' font-weight="bold" fill="#111" stroke="#111" stroke-width="0.3" >Autumn</text>
<text transform="translate(86.4,267.13) scale(0.8928571428571428,1)" font-size="6.5520000000000005" text-anchor="start" font-family='"Liberation Serif", serif' font-weight="bold" fill="#111" stroke="#111" stroke-width="0.3" >Spring</text>
<text transform="translate(150.3,194.53) scale(0.8928571428571428,1)" font-size="6.5520000000000005" text-anchor="start" font-family='"Liberation Serif", serif' font-weight="bold" fill="#111" stroke="#111" stroke-width="0.3" >Winter</text>
<line x1="237.6" y1="175.1" x2="237.6" y2="310.2" stroke="#eeeeee" stroke-width="0.6" />
<line x1="273.86" y1="175.1" x2="273.86" y2="310.2" stroke="#eeeeee" stroke-width="0.6" />
<line x1="310.12" y1="175.1" x2="310.12" y2="310.2" stroke="#eeeeee" stroke-width="0.6" />
<line x1="346.38" y1="175.1" x2="346.38" y2="310.2" stroke="#eeeeee" stroke-width="0.6" />
<line x1="218.3" y1="309.6" x2="353.7" y2="309.6" stroke="#eeeeee" stroke-width="0.6" />
<line x1="218.3" y1="291.43" x2="353.7" y2="291.43" stroke="#eeeeee" stroke-width="0.6" />
<line x1="218.3" y1="273.26" x2="353.7" y2="273.26" stroke="#eeeeee" stroke-width="0.6" />
<line x1="218.3" y1="255.09" x2="353.7" y2="255.09" stroke="#eeeeee" stroke-width="0.6" />
<line x1="218.3" y1="236.92" x2="353.7" y2="236.92" stroke="#eeeeee" stroke-width="0.6" />
<line x1="218.3" y1="218.75" x2="353.7" y2="218.75" stroke="#eeeeee" stroke-width="0.6" />
<line x1="218.3" y1="200.58" x2="353.7" y2="200.58" stroke="#eeeeee" stroke-width="0.6" />
<line x1="218.3" y1="182.41" x2="353.7" y2="182.41" stroke="#eeeeee" stroke-width="0.6" />
<line x1="218.3" y1="310.2" x2="353.7" y2="175.1" stroke="#4a4a4a" stroke-width="1.0" stroke-dasharray="0.01,1.8" stroke-linecap="round"/>
<polyline points="337.8,208.6 333,219.9 296.2,234.8 268.5,268.4 233,291.4 222,307.7 219.7,306.1 225.2,309.6 231.2,286.7 261.3,271.6 312.3,216.1 352.2,182.7 337.8,208.6" fill="none" stroke="#5f5fff" stroke-width="0.8"/>
<circle cx="337.8" cy="208.6" r="1.75" fill="#000028"/>
<circle cx="333" cy="219.9" r="1.75" fill="#000028"/>
<circle cx="296.2" cy="234.8" r="1.75" fill="#000028"/>
<circle cx="268.5" cy="268.4" r="1.75" fill="#000028"/>
<circle cx="233" cy="291.4" r="1.75" fill="#000028"/>
<circle cx="222" cy="307.7" r="1.75" fill="#000028"/>
<circle cx="219.7" cy="306.1" r="1.75" fill="#000028"/>
<circle cx="225.2" cy="309.6" r="1.75" fill="#000028"/>
<circle cx="231.2" cy="286.7" r="1.75" fill="#000028"/>
<circle cx="261.3" cy="271.6" r="1.75" fill="#000028"/>
<circle cx="312.3" cy="216.1" r="1.75" fill="#000028"/>
<circle cx="352.2" cy="182.7" r="1.75" fill="#000028"/>
<rect x="218.3" y="175.1" width="135.4" height="135.1" fill="none" stroke="#9c9c9c" stroke-width="1.0"/>
<line x1="237.6" y1="310.2" x2="237.6" y2="308.6" stroke="#9c9c9c" stroke-width="0.8" />
<line x1="237.6" y1="175.1" x2="237.6" y2="176.7" stroke="#9c9c9c" stroke-width="0.8" />
<line x1="273.86" y1="310.2" x2="273.86" y2="308.6" stroke="#9c9c9c" stroke-width="0.8" />
<line x1="273.86" y1="175.1" x2="273.86" y2="176.7" stroke="#9c9c9c" stroke-width="0.8" />
<line x1="310.12" y1="310.2" x2="310.12" y2="308.6" stroke="#9c9c9c" stroke-width="0.8" />
<line x1="310.12" y1="175.1" x2="310.12" y2="176.7" stroke="#9c9c9c" stroke-width="0.8" />
<line x1="346.38" y1="310.2" x2="346.38" y2="308.6" stroke="#9c9c9c" stroke-width="0.8" />
<line x1="346.38" y1="175.1" x2="346.38" y2="176.7" stroke="#9c9c9c" stroke-width="0.8" />
<line x1="218.3" y1="309.6" x2="219.9" y2="309.6" stroke="#9c9c9c" stroke-width="0.8" />
<line x1="353.7" y1="309.6" x2="352.1" y2="309.6" stroke="#9c9c9c" stroke-width="0.8" />
<line x1="218.3" y1="291.43" x2="219.9" y2="291.43" stroke="#9c9c9c" stroke-width="0.8" />
<line x1="353.7" y1="291.43" x2="352.1" y2="291.43" stroke="#9c9c9c" stroke-width="0.8" />
<line x1="218.3" y1="273.26" x2="219.9" y2="273.26" stroke="#9c9c9c" stroke-width="0.8" />
<line x1="353.7" y1="273.26" x2="352.1" y2="273.26" stroke="#9c9c9c" stroke-width="0.8" />
<line x1="218.3" y1="255.09" x2="219.9" y2="255.09" stroke="#9c9c9c" stroke-width="0.8" />
<line x1="353.7" y1="255.09" x2="352.1" y2="255.09" stroke="#9c9c9c" stroke-width="0.8" />
<line x1="218.3" y1="236.92" x2="219.9" y2="236.92" stroke="#9c9c9c" stroke-width="0.8" />
<line x1="353.7" y1="236.92" x2="352.1" y2="236.92" stroke="#9c9c9c" stroke-width="0.8" />
<line x1="218.3" y1="218.75" x2="219.9" y2="218.75" stroke="#9c9c9c" stroke-width="0.8" />
<line x1="353.7" y1="218.75" x2="352.1" y2="218.75" stroke="#9c9c9c" stroke-width="0.8" />
<line x1="218.3" y1="200.58" x2="219.9" y2="200.58" stroke="#9c9c9c" stroke-width="0.8" />
<line x1="353.7" y1="200.58" x2="352.1" y2="200.58" stroke="#9c9c9c" stroke-width="0.8" />
<line x1="218.3" y1="182.41" x2="219.9" y2="182.41" stroke="#9c9c9c" stroke-width="0.8" />
<line x1="353.7" y1="182.41" x2="352.1" y2="182.41" stroke="#9c9c9c" stroke-width="0.8" />
<text transform="translate(237.6,318.5) scale(1.0,1)" font-size="6.2" text-anchor="middle" font-family='"Liberation Sans", sans-serif' font-weight="normal" fill="#262626" stroke="#262626" stroke-width="0.12" >2000</text>
<text transform="translate(273.86,318.5) scale(1.0,1)" font-size="6.2" text-anchor="middle" font-family='"Liberation Sans", sans-serif' font-weight="normal" fill="#262626" stroke="#262626" stroke-width="0.12" >4000</text>
<text transform="translate(310.12,318.5) scale(1.0,1)" font-size="6.2" text-anchor="middle" font-family='"Liberation Sans", sans-serif' font-weight="normal" fill="#262626" stroke="#262626" stroke-width="0.12" >6000</text>
<text transform="translate(346.38,318.5) scale(1.0,1)" font-size="6.2" text-anchor="middle" font-family='"Liberation Sans", sans-serif' font-weight="normal" fill="#262626" stroke="#262626" stroke-width="0.12" >8000</text>
<text transform="translate(216.3,311.8) scale(1.0,1)" font-size="6.2" text-anchor="end" font-family='"Liberation Sans", sans-serif' font-weight="normal" fill="#262626" stroke="#262626" stroke-width="0.12" >1000</text>
<text transform="translate(216.3,293.63) scale(1.0,1)" font-size="6.2" text-anchor="end" font-family='"Liberation Sans", sans-serif' font-weight="normal" fill="#262626" stroke="#262626" stroke-width="0.12" >2000</text>
<text transform="translate(216.3,275.46) scale(1.0,1)" font-size="6.2" text-anchor="end" font-family='"Liberation Sans", sans-serif' font-weight="normal" fill="#262626" stroke="#262626" stroke-width="0.12" >3000</text>
<text transform="translate(216.3,257.29) scale(1.0,1)" font-size="6.2" text-anchor="end" font-family='"Liberation Sans", sans-serif' font-weight="normal" fill="#262626" stroke="#262626" stroke-width="0.12" >4000</text>
<text transform="translate(216.3,239.12) scale(1.0,1)" font-size="6.2" text-anchor="end" font-family='"Liberation Sans", sans-serif' font-weight="normal" fill="#262626" stroke="#262626" stroke-width="0.12" >5000</text>
<text transform="translate(216.3,220.95) scale(1.0,1)" font-size="6.2" text-anchor="end" font-family='"Liberation Sans", sans-serif' font-weight="normal" fill="#262626" stroke="#262626" stroke-width="0.12" >6000</text>
<text transform="translate(216.3,202.78) scale(1.0,1)" font-size="6.2" text-anchor="end" font-family='"Liberation Sans", sans-serif' font-weight="normal" fill="#262626" stroke="#262626" stroke-width="0.12" >7000</text>
<text transform="translate(216.3,184.61) scale(1.0,1)" font-size="6.2" text-anchor="end" font-family='"Liberation Sans", sans-serif' font-weight="normal" fill="#262626" stroke="#262626" stroke-width="0.12" >8000</text>
<text transform="translate(286.4,326.61) scale(1.0,1)" font-size="6.5" text-anchor="middle" font-family='"Liberation Sans", sans-serif' font-weight="normal" fill="#262626" stroke="#262626" stroke-width="0.12" >First Half (1962-1991) P<tspan font-size="4.6" dx="0.5" dy="2.6">w</tspan><tspan dx="0.2" dy="-2.6"> (kW/m)</tspan></text>
<text transform="translate(195.1,242.7) rotate(-90) scale(1.0,1) translate(0,2.308)" font-size="6.5" text-anchor="middle" font-family='"Liberation Sans", sans-serif' font-weight="normal" fill="#262626" stroke="#262626" stroke-width="0.12" >Second Half (1992-2021) P<tspan font-size="4.6" dx="0.5" dy="2.6">w</tspan><tspan dx="0.2" dy="-2.6"> (kW/m)</tspan></text>
<text transform="translate(221.4,183.33) scale(0.8928571428571428,1)" font-size="6.272" text-anchor="start" font-family='"Liberation Serif", serif' font-weight="bold" fill="#111" stroke="#111" stroke-width="0.3" >(e)</text>
<text transform="translate(342.2,182.33) scale(0.8928571428571428,1)" font-size="6.5520000000000005" text-anchor="start" font-family='"Liberation Serif", serif' font-weight="bold" fill="#111" stroke="#111" stroke-width="0.3" >Dec</text>
<text transform="translate(340.1,212.03) scale(0.8928571428571428,1)" font-size="6.5520000000000005" text-anchor="start" font-family='"Liberation Serif", serif' font-weight="bold" fill="#111" stroke="#111" stroke-width="0.3" >Jan</text>
<text transform="translate(336,226.43) scale(0.8928571428571428,1)" font-size="6.5520000000000005" text-anchor="start" font-family='"Liberation Serif", serif' font-weight="bold" fill="#111" stroke="#111" stroke-width="0.3" >Feb</text>
<text transform="translate(298.4,214.93) scale(0.8928571428571428,1)" font-size="6.5520000000000005" text-anchor="start" font-family='"Liberation Serif", serif' font-weight="bold" fill="#111" stroke="#111" stroke-width="0.3" >Nov</text>
<text transform="translate(283.2,235.23) scale(0.8928571428571428,1)" font-size="6.5520000000000005" text-anchor="start" font-family='"Liberation Serif", serif' font-weight="bold" fill="#111" stroke="#111" stroke-width="0.3" >Mar</text>
<text transform="translate(270.6,272.13) scale(0.8928571428571428,1)" font-size="6.5520000000000005" text-anchor="start" font-family='"Liberation Serif", serif' font-weight="bold" fill="#111" stroke="#111" stroke-width="0.3" >Apr</text>
<text transform="translate(249.7,271.13) scale(0.8928571428571428,1)" font-size="6.5520000000000005" text-anchor="start" font-family='"Liberation Serif", serif' font-weight="bold" fill="#111" stroke="#111" stroke-width="0.3" >Oct</text>
<text transform="translate(225.9,283.63) scale(0.8928571428571428,1)" font-size="6.5520000000000005" text-anchor="start" font-family='"Liberation Serif", serif' font-weight="bold" fill="#111" stroke="#111" stroke-width="0.3" >Sep</text>
<text transform="translate(234.7,294.43) scale(0.8928571428571428,1)" font-size="6.5520000000000005" text-anchor="start" font-family='"Liberation Serif", serif' font-weight="bold" fill="#111" stroke="#111" stroke-width="0.3" >May</text>
<text transform="translate(219.6,299.63) scale(0.8928571428571428,1)" font-size="6.5520000000000005" text-anchor="start" font-family='"Liberation Serif", serif' font-weight="bold" fill="#111" stroke="#111" stroke-width="0.3" >Jul</text>
<text transform="translate(222.3,306.33) scale(0.8928571428571428,1)" font-size="6.5520000000000005" text-anchor="start" font-family='"Liberation Serif", serif' font-weight="bold" fill="#111" stroke="#111" stroke-width="0.3" >Jun</text>
<text transform="translate(226.6,310.43) scale(0.8928571428571428,1)" font-size="6.5520000000000005" text-anchor="start" font-family='"Liberation Serif", serif' font-weight="bold" fill="#111" stroke="#111" stroke-width="0.3" >Aug</text>
<line x1="403.75" y1="175.3" x2="403.75" y2="310.4" stroke="#eeeeee" stroke-width="0.6" />
<line x1="437.38" y1="175.3" x2="437.38" y2="310.4" stroke="#eeeeee" stroke-width="0.6" />
<line x1="471" y1="175.3" x2="471" y2="310.4" stroke="#eeeeee" stroke-width="0.6" />
<line x1="504.62" y1="175.3" x2="504.62" y2="310.4" stroke="#eeeeee" stroke-width="0.6" />
<line x1="403.2" y1="296.84" x2="538.5" y2="296.84" stroke="#eeeeee" stroke-width="0.6" />
<line x1="403.2" y1="283.33" x2="538.5" y2="283.33" stroke="#eeeeee" stroke-width="0.6" />
<line x1="403.2" y1="269.82" x2="538.5" y2="269.82" stroke="#eeeeee" stroke-width="0.6" />
<line x1="403.2" y1="256.31" x2="538.5" y2="256.31" stroke="#eeeeee" stroke-width="0.6" />
<line x1="403.2" y1="242.8" x2="538.5" y2="242.8" stroke="#eeeeee" stroke-width="0.6" />
<line x1="403.2" y1="229.29" x2="538.5" y2="229.29" stroke="#eeeeee" stroke-width="0.6" />
<line x1="403.2" y1="215.78" x2="538.5" y2="215.78" stroke="#eeeeee" stroke-width="0.6" />
<line x1="403.2" y1="202.27" x2="538.5" y2="202.27" stroke="#eeeeee" stroke-width="0.6" />
<line x1="403.2" y1="188.76" x2="538.5" y2="188.76" stroke="#eeeeee" stroke-width="0.6" />
<line x1="403.2" y1="310.4" x2="538.5" y2="175.3" stroke="#4a4a4a" stroke-width="1.0" stroke-dasharray="0.01,1.8" stroke-linecap="round"/>
<line x1="403.2" y1="175.3" x2="538.5" y2="310.4" stroke="#4a4a4a" stroke-width="1.0" stroke-dasharray="0.01,1.8" stroke-linecap="round"/>
<line x1="471.1" y1="175.3" x2="471.1" y2="310.4" stroke="#a0a0a0" stroke-width="1.1" />
<line x1="403.2" y1="243" x2="538.5" y2="243" stroke="#a0a0a0" stroke-width="1.1" />
<line x1="471" y1="242.8" x2="509.3" y2="201.3" stroke="#5c5cff" stroke-width="0.9" />
<line x1="471" y1="242.8" x2="500.5" y2="218" stroke="#5c5cff" stroke-width="0.9" />
<line x1="471" y1="242.8" x2="493.2" y2="230.5" stroke="#5c5cff" stroke-width="0.9" />
<line x1="471" y1="242.8" x2="475.6" y2="225.6" stroke="#5c5cff" stroke-width="0.9" />
<line x1="471" y1="242.8" x2="475" y2="245.2" stroke="#5c5cff" stroke-width="0.9" />
<line x1="471" y1="242.8" x2="468.5" y2="246.6" stroke="#5c5cff" stroke-width="0.9" />
<line x1="471" y1="242.8" x2="443.9" y2="254" stroke="#5c5cff" stroke-width="0.9" />
<line x1="471" y1="242.8" x2="444.4" y2="259.6" stroke="#5c5cff" stroke-width="0.9" />
<line x1="471" y1="242.8" x2="450.5" y2="267.6" stroke="#5c5cff" stroke-width="0.9" />
<line x1="471" y1="242.8" x2="460.2" y2="261.4" stroke="#5c5cff" stroke-width="0.9" />
<line x1="471" y1="242.8" x2="459.4" y2="256.8" stroke="#5c5cff" stroke-width="0.9" />
<line x1="471" y1="242.8" x2="472" y2="240" stroke="#5c5cff" stroke-width="0.9" />
<rect x="403.2" y="175.3" width="135.3" height="135.1" fill="none" stroke="#9c9c9c" stroke-width="1.0"/>
<line x1="403.75" y1="310.4" x2="403.75" y2="308.8" stroke="#9c9c9c" stroke-width="0.8" />
<line x1="403.75" y1="175.3" x2="403.75" y2="176.9" stroke="#9c9c9c" stroke-width="0.8" />
<line x1="437.38" y1="310.4" x2="437.38" y2="308.8" stroke="#9c9c9c" stroke-width="0.8" />
<line x1="437.38" y1="175.3" x2="437.38" y2="176.9" stroke="#9c9c9c" stroke-width="0.8" />
<line x1="471" y1="310.4" x2="471" y2="308.8" stroke="#9c9c9c" stroke-width="0.8" />
<line x1="471" y1="175.3" x2="471" y2="176.9" stroke="#9c9c9c" stroke-width="0.8" />
<line x1="504.62" y1="310.4" x2="504.62" y2="308.8" stroke="#9c9c9c" stroke-width="0.8" />
<line x1="504.62" y1="175.3" x2="504.62" y2="176.9" stroke="#9c9c9c" stroke-width="0.8" />
<line x1="538.25" y1="310.4" x2="538.25" y2="308.8" stroke="#9c9c9c" stroke-width="0.8" />
<line x1="538.25" y1="175.3" x2="538.25" y2="176.9" stroke="#9c9c9c" stroke-width="0.8" />
<line x1="403.2" y1="310.35" x2="404.8" y2="310.35" stroke="#9c9c9c" stroke-width="0.8" />
<line x1="538.5" y1="310.35" x2="536.9" y2="310.35" stroke="#9c9c9c" stroke-width="0.8" />
<line x1="403.2" y1="296.84" x2="404.8" y2="296.84" stroke="#9c9c9c" stroke-width="0.8" />
<line x1="538.5" y1="296.84" x2="536.9" y2="296.84" stroke="#9c9c9c" stroke-width="0.8" />
<line x1="403.2" y1="283.33" x2="404.8" y2="283.33" stroke="#9c9c9c" stroke-width="0.8" />
<line x1="538.5" y1="283.33" x2="536.9" y2="283.33" stroke="#9c9c9c" stroke-width="0.8" />
<line x1="403.2" y1="269.82" x2="404.8" y2="269.82" stroke="#9c9c9c" stroke-width="0.8" />
<line x1="538.5" y1="269.82" x2="536.9" y2="269.82" stroke="#9c9c9c" stroke-width="0.8" />
<line x1="403.2" y1="256.31" x2="404.8" y2="256.31" stroke="#9c9c9c" stroke-width="0.8" />
<line x1="538.5" y1="256.31" x2="536.9" y2="256.31" stroke="#9c9c9c" stroke-width="0.8" />
<line x1="403.2" y1="242.8" x2="404.8" y2="242.8" stroke="#9c9c9c" stroke-width="0.8" />
<line x1="538.5" y1="242.8" x2="536.9" y2="242.8" stroke="#9c9c9c" stroke-width="0.8" />
<line x1="403.2" y1="229.29" x2="404.8" y2="229.29" stroke="#9c9c9c" stroke-width="0.8" />
<line x1="538.5" y1="229.29" x2="536.9" y2="229.29" stroke="#9c9c9c" stroke-width="0.8" />
<line x1="403.2" y1="215.78" x2="404.8" y2="215.78" stroke="#9c9c9c" stroke-width="0.8" />
<line x1="538.5" y1="215.78" x2="536.9" y2="215.78" stroke="#9c9c9c" stroke-width="0.8" />
<line x1="403.2" y1="202.27" x2="404.8" y2="202.27" stroke="#9c9c9c" stroke-width="0.8" />
<line x1="538.5" y1="202.27" x2="536.9" y2="202.27" stroke="#9c9c9c" stroke-width="0.8" />
<line x1="403.2" y1="188.76" x2="404.8" y2="188.76" stroke="#9c9c9c" stroke-width="0.8" />
<line x1="538.5" y1="188.76" x2="536.9" y2="188.76" stroke="#9c9c9c" stroke-width="0.8" />
<line x1="403.2" y1="175.25" x2="404.8" y2="175.25" stroke="#9c9c9c" stroke-width="0.8" />
<line x1="538.5" y1="175.25" x2="536.9" y2="175.25" stroke="#9c9c9c" stroke-width="0.8" />
<text transform="translate(403.75,318.5) scale(1.0,1)" font-size="6.2" text-anchor="middle" font-family='"Liberation Sans", sans-serif' font-weight="normal" fill="#262626" stroke="#262626" stroke-width="0.12" >−5000</text>
<text transform="translate(437.38,318.5) scale(1.0,1)" font-size="6.2" text-anchor="middle" font-family='"Liberation Sans", sans-serif' font-weight="normal" fill="#262626" stroke="#262626" stroke-width="0.12" >−2500</text>
<text transform="translate(471,318.5) scale(1.0,1)" font-size="6.2" text-anchor="middle" font-family='"Liberation Sans", sans-serif' font-weight="normal" fill="#262626" stroke="#262626" stroke-width="0.12" >0</text>
<text transform="translate(504.62,318.5) scale(1.0,1)" font-size="6.2" text-anchor="middle" font-family='"Liberation Sans", sans-serif' font-weight="normal" fill="#262626" stroke="#262626" stroke-width="0.12" >2500</text>
<text transform="translate(538.25,318.5) scale(1.0,1)" font-size="6.2" text-anchor="middle" font-family='"Liberation Sans", sans-serif' font-weight="normal" fill="#262626" stroke="#262626" stroke-width="0.12" >5000</text>
<text transform="translate(401.4,312.55) scale(1.0,1)" font-size="6.2" text-anchor="end" font-family='"Liberation Sans", sans-serif' font-weight="normal" fill="#262626" stroke="#262626" stroke-width="0.12" >−5000</text>
<text transform="translate(401.4,299.04) scale(1.0,1)" font-size="6.2" text-anchor="end" font-family='"Liberation Sans", sans-serif' font-weight="normal" fill="#262626" stroke="#262626" stroke-width="0.12" >−4000</text>
<text transform="translate(401.4,285.53) scale(1.0,1)" font-size="6.2" text-anchor="end" font-family='"Liberation Sans", sans-serif' font-weight="normal" fill="#262626" stroke="#262626" stroke-width="0.12" >−3000</text>
<text transform="translate(401.4,272.02) scale(1.0,1)" font-size="6.2" text-anchor="end" font-family='"Liberation Sans", sans-serif' font-weight="normal" fill="#262626" stroke="#262626" stroke-width="0.12" >−2000</text>
<text transform="translate(401.4,258.51) scale(1.0,1)" font-size="6.2" text-anchor="end" font-family='"Liberation Sans", sans-serif' font-weight="normal" fill="#262626" stroke="#262626" stroke-width="0.12" >−1000</text>
<text transform="translate(401.4,245) scale(1.0,1)" font-size="6.2" text-anchor="end" font-family='"Liberation Sans", sans-serif' font-weight="normal" fill="#262626" stroke="#262626" stroke-width="0.12" >0</text>
<text transform="translate(401.4,231.49) scale(1.0,1)" font-size="6.2" text-anchor="end" font-family='"Liberation Sans", sans-serif' font-weight="normal" fill="#262626" stroke="#262626" stroke-width="0.12" >1000</text>
<text transform="translate(401.4,217.98) scale(1.0,1)" font-size="6.2" text-anchor="end" font-family='"Liberation Sans", sans-serif' font-weight="normal" fill="#262626" stroke="#262626" stroke-width="0.12" >2000</text>
<text transform="translate(401.4,204.47) scale(1.0,1)" font-size="6.2" text-anchor="end" font-family='"Liberation Sans", sans-serif' font-weight="normal" fill="#262626" stroke="#262626" stroke-width="0.12" >3000</text>
<text transform="translate(401.4,190.96) scale(1.0,1)" font-size="6.2" text-anchor="end" font-family='"Liberation Sans", sans-serif' font-weight="normal" fill="#262626" stroke="#262626" stroke-width="0.12" >4000</text>
<text transform="translate(401.4,177.45) scale(1.0,1)" font-size="6.2" text-anchor="end" font-family='"Liberation Sans", sans-serif' font-weight="normal" fill="#262626" stroke="#262626" stroke-width="0.12" >5000</text>
<rect x="406" y="177.2" width="6.44" height="5.8" fill="#fff" stroke="none" stroke-width="1" />
<text transform="translate(406.3,182.43) scale(0.8928571428571428,1)" font-size="6.5520000000000005" text-anchor="start" font-family='"Liberation Serif", serif' font-weight="bold" fill="#111" stroke="#111" stroke-width="0.3" >(f)</text>
<rect x="407.9" y="184" width="9.05" height="5.8" fill="#fff" stroke="none" stroke-width="1" />
<text transform="translate(408.2,189.23) scale(0.8928571428571428,1)" font-size="6.5520000000000005" text-anchor="start" font-family='"Liberation Serif", serif' font-weight="bold" fill="#111" stroke="#111" stroke-width="0.3" >(II)</text>
<rect x="525.9" y="182.4" width="6.77" height="5.8" fill="#fff" stroke="none" stroke-width="1" />
<text transform="translate(526.2,187.63) scale(0.8928571428571428,1)" font-size="6.5520000000000005" text-anchor="start" font-family='"Liberation Serif", serif' font-weight="bold" fill="#111" stroke="#111" stroke-width="0.3" >(I)</text>
<rect x="406" y="301.3" width="11.33" height="5.8" fill="#fff" stroke="none" stroke-width="1" />
<text transform="translate(406.3,306.53) scale(0.8928571428571428,1)" font-size="6.5520000000000005" text-anchor="start" font-family='"Liberation Serif", serif' font-weight="bold" fill="#111" stroke="#111" stroke-width="0.3" >(III)</text>
<rect x="522.1" y="300.7" width="11" height="5.8" fill="#fff" stroke="none" stroke-width="1" />
<text transform="translate(522.4,305.93) scale(0.8928571428571428,1)" font-size="6.5520000000000005" text-anchor="start" font-family='"Liberation Serif", serif' font-weight="bold" fill="#111" stroke="#111" stroke-width="0.3" >(IV)</text>
<text transform="translate(492.1,199.03) scale(0.8928571428571428,1)" font-size="6.5520000000000005" text-anchor="start" font-family='"Liberation Serif", serif' font-weight="bold" fill="#111" stroke="#111" stroke-width="0.3" >Oct-Nov</text>
<text transform="translate(500.9,219.83) scale(0.8928571428571428,1)" font-size="6.5520000000000005" text-anchor="start" font-family='"Liberation Serif", serif' font-weight="bold" fill="#111" stroke="#111" stroke-width="0.3" >Nov-Dec</text>
<text transform="translate(493.8,234.33) scale(0.8928571428571428,1)" font-size="6.5520000000000005" text-anchor="start" font-family='"Liberation Serif", serif' font-weight="bold" fill="#111" stroke="#111" stroke-width="0.3" >Sep-Oct</text>
<text transform="translate(472.7,222.83) scale(0.8928571428571428,1)" font-size="6.5520000000000005" text-anchor="start" font-family='"Liberation Serif", serif' font-weight="bold" fill="#111" stroke="#111" stroke-width="0.3" >Aug-Sep</text>
<text transform="translate(454.4,240.33) scale(0.8928571428571428,1)" font-size="6.5520000000000005" text-anchor="start" font-family='"Liberation Serif", serif' font-weight="bold" fill="#111" stroke="#111" stroke-width="0.3" >Jun-Jul</text>
<text transform="translate(475,248.03) scale(0.8928571428571428,1)" font-size="6.5520000000000005" text-anchor="start" font-family='"Liberation Serif", serif' font-weight="bold" fill="#111" stroke="#111" stroke-width="0.3" >Jul-Aug</text>
<text transform="translate(468,254.33) scale(0.8928571428571428,1)" font-size="6.5520000000000005" text-anchor="start" font-family='"Liberation Serif", serif' font-weight="bold" fill="#111" stroke="#111" stroke-width="0.3" >Jan-Feb</text>
<text transform="translate(422.5,253.23) scale(0.8928571428571428,1)" font-size="6.5520000000000005" text-anchor="start" font-family='"Liberation Serif", serif' font-weight="bold" fill="#111" stroke="#111" stroke-width="0.3" >Feb-Mar</text>
<text transform="translate(419.5,261.23) scale(0.8928571428571428,1)" font-size="6.5520000000000005" text-anchor="start" font-family='"Liberation Serif", serif' font-weight="bold" fill="#111" stroke="#111" stroke-width="0.3" >Apr-May</text>
<text transform="translate(450.9,259.13) scale(0.8928571428571428,1)" font-size="6.5520000000000005" text-anchor="start" font-family='"Liberation Serif", serif' font-weight="bold" fill="#111" stroke="#111" stroke-width="0.3" >May-Jun</text>
<text transform="translate(457.6,267.43) scale(0.8928571428571428,1)" font-size="6.5520000000000005" text-anchor="start" font-family='"Liberation Serif", serif' font-weight="bold" fill="#111" stroke="#111" stroke-width="0.3" >Dec-Jan</text>
<text transform="translate(429.4,269.93) scale(0.8928571428571428,1)" font-size="6.5520000000000005" text-anchor="start" font-family='"Liberation Serif", serif' font-weight="bold" fill="#111" stroke="#111" stroke-width="0.3" >Mar-Apr</text>
<text transform="translate(506.8,250.83) scale(0.8928571428571428,1)" font-size="6.5520000000000005" text-anchor="start" font-family='"Liberation Serif", serif' font-weight="bold" fill="#111" stroke="#111" stroke-width="0.3" >(1962-1991)</text>
<text transform="translate(440.8,180.63) scale(0.8928571428571428,1)" font-size="6.5520000000000005" text-anchor="start" font-family='"Liberation Serif", serif' font-weight="bold" fill="#111" stroke="#111" stroke-width="0.3" >(1992-2021)</text>
</g>
</svg></body></html>
